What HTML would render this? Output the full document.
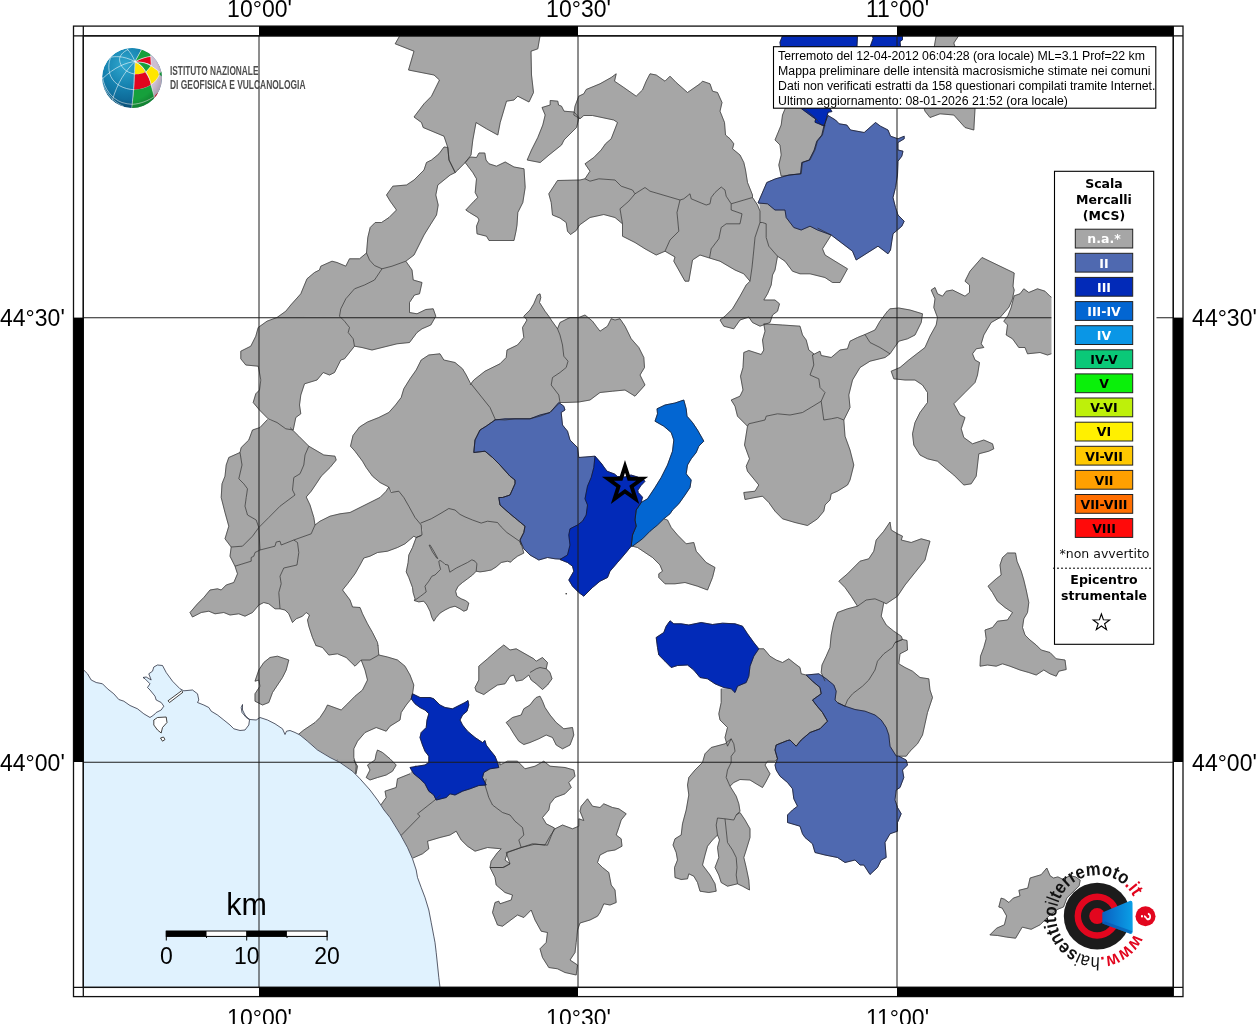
<!DOCTYPE html>
<html lang="it"><head><meta charset="utf-8"><title>Hai sentito il terremoto - Mappa intensita macrosismiche</title>
<style>html,body{margin:0;padding:0;background:#fff}body{width:1256px;height:1024px;overflow:hidden}svg{display:block}.h{font-family:"Liberation Sans",Arial,Helvetica,sans-serif}.d{font-family:"DejaVu Sans","Liberation Sans",sans-serif}.db{font-family:"DejaVu Sans","Liberation Sans",sans-serif;font-weight:bold}</style></head><body>
<svg width="1256" height="1024" viewBox="0 0 1256 1024" style="will-change:transform">
<rect width="1256" height="1024" fill="#fff"/>
<defs><clipPath id="mc"><rect x="83.3" y="35.8" width="1090.0" height="951.6"/></clipPath></defs>
<g clip-path="url(#mc)">
<path d="M400.2,35 540.2,35 537.8,48.8 531,51.2 531.5,75 533.5,92.5 529,102 517.8,96.2 514,100 506.5,101.2 500.2,122.5 497.8,135 486.5,128.8 476,122.5 472.8,140 471,155 465.2,162.5 457.8,170 455.2,172.5 449,160 447.8,147.5 444,136.2 423.2,127.5 421.5,122.5 414,117 424,103.8 431.5,96.2 439.5,80 434,75 408.5,70 414,51.2 395.2,43.8Z" fill="#a6a6a6" stroke="#a6a6a6" stroke-width="0.6"/>
<path d="M447.8,147.5 449,160 455.2,172.5 450.2,175 437.8,185 435.8,195 438.2,205 436.5,215 430.2,225 424,235 419,245 414,255 405.8,261.2 392,266.2 382,268.8 374.5,265.5 369.5,260 366.5,253 367.8,237.5 370.2,227.5 375.2,222.5 381.5,222.5 389,217.5 396.5,210 390.2,201.2 386.5,195 392.8,186.2 406.5,185 414,180 424,170 426.5,162.5 431.5,160 439,153.8 444,147Z" fill="#a6a6a6" stroke="#a6a6a6" stroke-width="0.6"/>
<path d="M465.2,162.5 470.2,157 476.5,157.5 479,153 484.8,153 486,160 489,163.8 496.5,166.2 505.2,162 514,167 524,168.8 525.2,187.5 522.8,202.5 517.8,212.5 517,225 516,231.2 514,240.5 489,240.5 486.5,236.2 477,233.8 476.5,226.2 479,220 477.8,217.5 469.5,212.5 465.8,210 474,201.2 477.8,197.5 475.2,192.5 476.5,178.8 472.8,172.5Z" fill="#a6a6a6" stroke="#a6a6a6" stroke-width="0.6"/>
<path d="M550.2,100.5 557.8,101.2 558.5,105 561.5,106.2 564,111.2 574,112 579,117.5 576.5,127.5 564,140 561.5,145 549,155 540.2,162.5 527.2,160 531.5,150 537.8,137.5 542.8,125 545.2,115 542,107.5 550.2,105Z" fill="#a6a6a6" stroke="#a6a6a6" stroke-width="0.6"/>
<path d="M573.8,115 575,106.2 578.8,96.2 583.8,93.8 586.2,89.5 600,83.8 611.2,77.5 616.2,73.8 614.5,81.2 623.8,87.5 636.2,96.2 642.5,90 646.2,81.2 650,73.8 656.2,75 665,81.2 670,76.2 676.2,82.5 687.5,92.5 700,83.8 702.5,81.2 710,83.8 712.5,91.2 717.5,92.5 722,102.5 720,111.2 724.5,122.5 725.5,135 730,138.8 733.8,143.8 732.5,148.8 740,155 743.8,162.5 745.5,170 747.5,182.5 752.5,195 752.5,197.5 731.2,203.8 726.2,196.2 725,190 721.2,187 715,192.5 711.2,197.5 710,203.8 706.2,205 700,202.5 691.2,198.8 690,193.8 683.8,198.8 680,200 650,191.2 645,187.5 635,193.8 632.5,190 621.2,186.2 615,180 598.8,178.8 590,181.2 585,178.8 590,171.2 585,163.8 593.8,157.5 601.2,150 605.5,143.8 611.2,138.8 617.5,122.5 613.8,120 592.5,115.5 583.8,115.5 580,118.8Z" fill="#a6a6a6" stroke="#a6a6a6" stroke-width="0.6"/>
<path d="M585,178.8 590,181.2 598.8,178.8 615,180 621.2,186.2 632.5,190 635,193.8 628.8,201.2 620,208.8 622.5,223.8 615,217.5 603.8,214.5 590,217.5 579.5,225 576.2,230.5 570.5,234.5 567.5,231.2 566.2,222.5 560,218 552.5,215 551.2,202.5 548.8,193.8 557.5,180.5 580,180Z" fill="#a6a6a6" stroke="#a6a6a6" stroke-width="0.6"/>
<path d="M635,193.8 645,187.5 650,191.2 680,200 677,212.5 678.8,231.2 670,240 665,251.2 656.2,255 645,248.8 635,242.5 622.5,236.2 622.5,223.8 620,208.8 628.8,201.2Z" fill="#a6a6a6" stroke="#a6a6a6" stroke-width="0.6"/>
<path d="M680,200 683.8,198.8 690,193.8 691.2,198.8 700,202.5 706.2,205 710,203.8 711.2,197.5 715,192.5 721.2,187 725,190 726.2,196.2 731.2,203.8 731.2,210 742,213.8 740,223.8 726.2,223.8 721.2,227.5 718.8,238.8 711.2,248.8 709.5,258 700,255 692.5,260 688.8,281.2 685,281.2 673.8,261.2 675,257 665,251.2 670,240 678.8,231.2 677,212.5Z" fill="#a6a6a6" stroke="#a6a6a6" stroke-width="0.6"/>
<path d="M731.2,203.8 752.5,197.5 757.5,205 760,211.2 760,222.5 755,237.5 753.8,250 752,267.5 750,281.2 743.8,273.8 735,270 720,261.2 709.5,258 711.2,248.8 718.8,238.8 721.2,227.5 726.2,223.8 740,223.8 742,213.8 731.2,210Z" fill="#a6a6a6" stroke="#a6a6a6" stroke-width="0.6"/>
<path d="M760,222.5 762.5,222.5 766.2,223.8 766.2,237.5 768.8,246.2 777.5,256.2 775,270 772.5,275 771.2,285 767.5,293.8 763.8,300 775,300 779.5,303.8 777.5,311.2 772.5,315 770,322.5 760,326.2 752.5,322.5 748.8,317 740,320 733.8,328.8 723.8,326.2 720,320 725,316.2 732.5,308.8 740,296.2 746.2,285 750,281.2 752,267.5 753.8,250 755,237.5Z" fill="#a6a6a6" stroke="#a6a6a6" stroke-width="0.6"/>
<path d="M760,206.2 759,201.5 767.5,202.5 775,208.5 785,208.5 787.5,216.2 794.5,225.5 801.2,228 810,224.5 817.5,228 831.2,235 822.5,248.8 825,255 835,261.2 847.5,268.8 840,282.5 832.5,282.5 825,277.5 810,273.8 800,273.8 792.5,271.2 785,261.2 777.5,256.2 768.8,246.2 766.2,237.5 766.2,223.8 762.5,222.5 760,222.5 760,211.2Z" fill="#a6a6a6" stroke="#a6a6a6" stroke-width="0.6"/>
<path d="M781.2,176.2 778.8,165 781.2,155 780,145 775,140 781.2,125 782.5,115 786.2,106.2 801.2,106.2 815,117.5 821.2,125 825,125 822.5,135 817.5,141.2 815,150 810,160 802.5,162.5 801.2,173.8 790,175Z" fill="#a6a6a6" stroke="#a6a6a6" stroke-width="0.6"/>
<path d="M931.2,290 935,287.5 937.5,293.8 942.5,296.2 946.2,291.2 952.5,290 965,296.2 969.5,292.5 969.5,285 965,281.2 970,271.2 982,257.5 1014.2,273 1013,286.2 1014.2,290 1012.5,298.8 1009,307 1005,311.8 1000,317.5 991.2,322.5 983.8,335 981.2,343.8 983.8,347.5 976.2,348.8 972.5,353.8 975,360 979.5,362.5 977.5,375 975,382.5 965,392.5 953.8,403.8 960,415 965,417.5 961.2,428.8 963.8,437.5 972.5,443.8 983.8,440 992.5,443.8 993.8,448.8 988.8,451.2 978.8,453.8 976.2,476.2 971.2,483.8 963.8,485 953.8,475 946.2,468.8 937.5,461.2 927.5,458.8 920,455 913.8,445 912.5,433.8 915,422.5 920,412.5 927.5,402.5 927.5,392.5 922.5,385 915,380 905,380 893.8,378.8 891.2,371.2 900,367.5 908.8,360 925,347.5 930,336.2 936.2,325 937.5,317.5 933.8,307.5 935,298.8Z" fill="#a6a6a6" stroke="#a6a6a6" stroke-width="0.6"/>
<path d="M1014.2,295.8 1020,293.8 1023.8,288.8 1028.8,292.5 1037.5,288.8 1045,291.2 1050,296.2 1055,300 1055,352.5 1047.5,355 1040,352.5 1027.5,353.8 1025,347.5 1018.8,347.5 1012.5,338.8 1006.2,335 1007.5,325 1003.8,321.2 1008,315.5 1011,308Z" fill="#a6a6a6" stroke="#a6a6a6" stroke-width="0.6"/>
<path d="M936.2,35.5 958.8,35.5 953.8,43 975,108.8 973.8,130 965,127.5 953.8,115 940,113.8 930,117.5 925,111.2 923.8,107.5Z" fill="#a6a6a6" stroke="#a6a6a6" stroke-width="0.6"/>
<path d="M887.5,311.2 890,308.8 898.8,308 910,310 922.5,313.8 921.2,322.5 915,335 907.5,338.8 898.8,341.2 890,353.8 880,347.5 870,342.5 865,334.5 875,330 880,321.2Z" fill="#a6a6a6" stroke="#a6a6a6" stroke-width="0.6"/>
<path d="M865,334.5 870,342.5 880,347.5 890,353.8 885,357.5 870,361.2 860,367.5 852.5,380 848.8,395 850,407.5 843.8,420 837.5,417.5 831.2,418.8 823.8,420 821.2,401.2 825,392.5 820,387.5 818.8,378.8 810,375 813.8,365 812.5,355 820,351.2 821.2,355.5 831.2,357.5 840,350 847.5,348.8 850,341.2 857.5,337.5Z" fill="#a6a6a6" stroke="#a6a6a6" stroke-width="0.6"/>
<path d="M763.8,323.8 782.5,325 800,326.2 802.5,335 806.2,340 808.8,350 813.8,353.8 812.5,355 813.8,365 810,375 818.8,378.8 820,387.5 825,392.5 821.2,401.2 815,405 802.5,412.5 790,415 777.5,413.8 766.2,416.2 765,420 748.8,423.8 747.5,426.2 737.5,416.2 735,406.2 731.2,400 740,396.2 743,390 740.5,376.2 743,367.5 743.8,352.5 748.8,350.5 761.2,354.5 763.8,350 762.5,340 765,331.2Z" fill="#a6a6a6" stroke="#a6a6a6" stroke-width="0.6"/>
<path d="M747.5,426.2 748.8,423.8 765,420 766.2,416.2 777.5,413.8 790,415 802.5,412.5 815,405 821.2,401.2 823.8,420 831.2,418.8 837.5,417.5 843.8,420 845,436.2 850,450 853.8,465 850,480 847.5,485 837.5,491.2 831.2,493.8 830,500 825,505 823.8,511.2 817.5,518.8 807.5,525.5 795,522.5 782.5,518.8 775,511.2 768.8,502.5 762.5,496.2 755,497.5 745,499.5 743.8,492.5 755,491.2 758.8,485 747.5,471.2 746.2,466.2 749.5,458.8 744.5,445Z" fill="#a6a6a6" stroke="#a6a6a6" stroke-width="0.6"/>
<path d="M366.5,253 359.5,258.8 349.5,258.8 345.8,266.2 337,262.5 332,261.2 320.8,266.2 319.5,270 314.5,272.5 307,278.8 300.8,293.8 290.8,305 285.8,311.2 277,317.5 339.5,316.2 340.8,308.8 345.8,298.8 354.5,288.8 364.5,285 374.5,280 382,268.8 374.5,265.5 369.5,260Z" fill="#a6a6a6" stroke="#a6a6a6" stroke-width="0.6"/>
<path d="M382,268.8 392,266.2 405.8,261.2 412,270 413.2,280 422,282.5 419.5,293.8 414.5,295 409.5,302.5 409.5,312.5 417,313.8 425.8,309.5 433.2,308.8 435.8,316.2 430.8,325 422,328.8 417,332.5 409.5,342.5 397,343.8 382,347.5 372,350 362,347.5 354.5,346.2 353.2,338.8 348.2,332.5 349.5,327.5 344.5,321.2 339.5,316.2 340.8,308.8 345.8,298.8 354.5,288.8 364.5,285 374.5,280Z" fill="#a6a6a6" stroke="#a6a6a6" stroke-width="0.6"/>
<path d="M277,317.5 339.5,316.2 344.5,321.2 349.5,327.5 348.2,332.5 353.2,338.8 354.5,346.2 344.5,358.8 340.8,360 334.5,372.5 329.5,375 323.2,372.5 317,380 304.5,383.8 300.8,395 299.5,405 300.8,413.8 295.8,417.5 293.2,430 285.8,428.8 277,422.5 268.2,418.8 259.5,410 253.2,402.5 255.8,393.8 259.5,390 260.8,380 259,370 258.2,366.2 245.8,365 240.8,358.8 240.8,351.2 250.8,346.2 255.8,336.2 258.2,327.5 267,321.2Z" fill="#a6a6a6" stroke="#a6a6a6" stroke-width="0.6"/>
<path d="M267.5,419.5 280,423 290,427.5 298.8,436.2 308.8,446.2 305,455 303.8,465 300,473.8 293.8,477.5 292.5,490 295,495 280,506.2 268.8,517.5 258.8,527.5 256.2,520 247.5,515 245,506.2 246.2,497.5 247.5,488.8 243.8,483.8 238.8,478.8 242,465 240,452.5 241.2,447.5 248.8,440 252.5,430 260,427.5Z" fill="#a6a6a6" stroke="#a6a6a6" stroke-width="0.6"/>
<path d="M308.8,446.2 323.8,455 335,456.2 336.2,460 330,467.5 321.2,476.2 316.2,483.8 311.2,491.2 306.2,497 310,505 313.8,517.5 315,525 311.2,533.8 293.8,540 281.2,545 280,541.2 276.2,542 275,546.2 260,550 258.8,527.5 268.8,517.5 280,506.2 295,495 292.5,490 293.8,477.5 300,473.8 303.8,465 305,455Z" fill="#a6a6a6" stroke="#a6a6a6" stroke-width="0.6"/>
<path d="M240,452.5 242,465 238.8,478.8 243.8,483.8 247.5,488.8 246.2,497.5 245,506.2 247.5,515 256.2,520 258.8,527.5 252.5,536.2 242.5,546.2 231.2,547 225,538.8 228.8,526.2 225,512.5 221.2,497.5 222,483.8 225,476.2 226.2,465 228.8,457.5Z" fill="#a6a6a6" stroke="#a6a6a6" stroke-width="0.6"/>
<path d="M231.2,547 242.5,546.2 252.5,536.2 258.8,527.5 260,550 255,552.5 253.8,556.2 251.2,557.5 251.2,561.2 235,566.2 230,556.2Z" fill="#a6a6a6" stroke="#a6a6a6" stroke-width="0.6"/>
<path d="M235,566.2 251.2,561.2 251.2,557.5 253.8,556.2 255,552.5 260,550 275,546.2 276.2,542 280,541.2 281.2,545 293.8,540 297.5,542.5 298.8,552.5 297,565 283.8,568 280,576.2 281.2,583.8 278.8,592.5 280,608.8 275,608.8 268.8,603.8 263.8,602.5 258.8,605 252.5,612.5 245,616.2 238.8,613.8 230,615 223.8,612.5 215,613.8 208.8,611.2 201.2,612.5 192.5,617 190,612.5 197.5,603.8 203.8,597.5 210,590 217.5,588.8 221.2,590 226.2,585 233.8,582.5 237.5,573.8Z" fill="#a6a6a6" stroke="#a6a6a6" stroke-width="0.6"/>
<path d="M293.8,540 311.2,533.8 315,525 320,521.2 330,516.2 340,513.8 350,512.5 360,507.5 370,502.5 380,497.5 386.2,491.2 388.8,487 391.2,492.5 398.8,491.2 403.8,497.5 408.8,506.2 415,517.5 421.2,525 422,535 416.2,537.5 413.8,536.2 405,543.8 397.5,547.5 387.5,551.2 377.5,552.5 370,556.2 363.8,558 360,565 355,573.8 347.5,583.8 342.5,590 350,600 352.5,607 360,607.5 362.5,613.8 367.5,623.8 372.5,632.5 377.5,642.5 378,646 316.2,646 312.5,637.5 308.8,626.2 307.5,620 309.5,615 306.2,612.5 302.5,616.2 296.2,618.8 292.5,622.5 288.8,613.8 285,610 280,608.8 278.8,592.5 281.2,583.8 280,576.2 283.8,568 297,565 298.8,552.5 297.5,542.5Z" fill="#a6a6a6" stroke="#a6a6a6" stroke-width="0.6"/>
<path d="M420.6,523.1 431.2,518.8 440,513.8 448.8,508.5 455,510 460,514.4 465,516.9 472.5,520 481.2,523.1 487.5,521.2 497.5,522.5 501.2,526.9 506.9,532.5 515,538.1 519.4,541.2 521.9,546.2 523.8,553.1 517.5,556.2 511.9,560.6 510.6,562.2 507.5,561.2 501.2,562.5 496.2,566.9 491.2,570 485,571.2 480,571.9 476.2,571.2 476.9,563.8 475,561.2 471.9,559.8 467.5,562.5 461.2,565.6 456.2,568.1 449.8,572.2 448.1,565 445,564.4 442.5,561.9 440,560.4 438.8,561.2 439.4,565 440.6,569.4 438.1,571.9 435,575 431.9,576.2 428.8,581.2 425,586.2 426.2,591.9 420.6,596.2 414.4,600.6 415,598.8 413.1,592.5 412.5,587.5 408.8,577.5 406.2,571.9 408.1,562.5 408.8,555 412.5,547.5 416.2,537.5 421.2,535.6 422.5,530Z" fill="#a6a6a6" stroke="#a6a6a6" stroke-width="0.6"/>
<path d="M414.4,600.6 420.6,596.2 426.2,591.9 425,586.2 428.8,581.2 431.9,576.2 435,575 438.1,571.9 440.6,569.4 439.4,565 438.8,561.2 440,560.4 442.5,561.9 445,564.4 448.1,565 449.8,572.2 456.2,568.1 461.2,565.6 467.5,562.5 471.9,559.8 475,561.2 476.9,563.8 476.2,571.2 472.5,575 467.5,578.8 462.5,582.5 458.1,586.2 455.6,591.2 456.9,596.2 461.2,598.8 465.6,600.6 468.8,603.1 466.9,610 463.8,611.2 460,608.8 455,606.2 450,607.5 445,610 440,613.1 436.2,617.5 433.8,621.2 431.9,617.5 430,611.2 426.9,605 423.8,601.2 418.8,601.9Z" fill="#a6a6a6" stroke="#a6a6a6" stroke-width="0.6"/>
<path d="M429.1,545.2 430.2,545.2 433.8,551.2 437.8,558.5 436.8,558.2 432.5,551.9Z" fill="#a6a6a6" stroke="#a6a6a6" stroke-width="0.6"/>
<path d="M421.2,360 428.8,355 440,353.8 443.8,360 455,362.5 462.5,368.8 466.2,375 470,382.5 480,395 490,407.5 495,418.8 495,420 486.2,426.2 480,430 475,440 473.8,452.5 485,451.2 492.5,457.5 500,465 510,476.2 515,480 515,483.8 510,495 502.5,497.5 498.8,497.5 500,505 510,513.8 517.5,520 525,526.2 523.8,532.5 520,540 521.2,545 517,546.5 511,539 503.5,529 495,526 485,526.5 475,524 465,520.2 456.2,515.2 450,512.8 440,516.5 430,522.8 421.2,527 412.5,518 406.2,508 402.5,500.5 395,495.5 388.8,487 380,482.5 372.5,476.2 366.2,467.5 362.5,461.2 355,451.2 350.5,446.2 353,435.5 359.5,427 367.5,422 378.8,417.5 388.8,412.5 395.5,405 401.2,397.5 403.8,388.8 410,378.8 416.2,370Z" fill="#a6a6a6" stroke="#a6a6a6" stroke-width="0.6"/>
<path d="M470,385 473.8,380 485,371.2 500,363.8 506.2,357.5 507,350 517.5,345 523.8,337.5 522.5,327.5 527,320 523.8,316.2 530,310 533.8,303.8 537.5,295 540,293.8 540.8,297.5 539.5,302.5 545,311.2 548.8,316.2 551.2,320 557.5,328.8 560,335 562.5,345 563.8,356.2 568,361.2 566.2,367.5 560,372.5 552.5,377.5 551.2,385 555,390 558.8,395 560,402.5 550,412.5 540,416.2 530,418.8 515,418.8 505,420 495,419.5 490,408.8 480,395Z" fill="#a6a6a6" stroke="#a6a6a6" stroke-width="0.6"/>
<path d="M557.5,328.8 560,322.5 570,317.5 578.8,317.5 585,315 592.5,321.2 596.2,326.2 600,331.2 607.5,326.2 611.2,318.8 615,320 620,318.8 625,326.2 631.2,338.8 638.8,347.5 643.8,357.5 644.5,367.5 640,375 645,385 635,396.2 625,390 612.5,391.2 600,392.5 590,400 578.8,402 565,402.5 560,402.5 558.8,395 555,390 551.2,385 552.5,377.5 560,372.5 566.2,367.5 568,361.2 563.8,356.2 562.5,345 560,335Z" fill="#a6a6a6" stroke="#a6a6a6" stroke-width="0.6"/>
<path d="M632.5,546.2 642.5,538.8 650,531.2 657.5,525 663.8,518.8 667.5,520 671.2,527.5 677.5,535 686.2,543.8 693.8,542.5 696.2,551.2 706.2,562.5 715,567.5 712.5,577.5 707.5,590 697.5,586.2 685,582.5 675,583.8 665,583.8 658.8,577.5 658.8,573.8 662.5,571.2 660,565 652.5,557.5 645,552.5 637.5,547.5Z" fill="#a6a6a6" stroke="#a6a6a6" stroke-width="0.6"/>
<path d="M890,522 891.2,530 897.5,533.8 902.5,536.2 901.2,540 911.2,542.5 921.2,538.8 930,541.2 927.5,550 925,560 915,572.5 905,585 897.5,596.2 886.2,603.8 883.8,602.5 875,598.8 866.2,600 857.5,606.2 851.2,596.2 845,587.5 838.8,581.2 847.5,573.8 860,561.2 868.8,558.8 873.8,551.2 876.2,540 883.8,531.2Z" fill="#a6a6a6" stroke="#a6a6a6" stroke-width="0.6"/>
<path d="M857.5,606.2 866.2,600 875,598.8 883.8,602.5 881.2,616.2 886.2,625 893.8,631.2 901.2,636.2 902.5,639.5 895,642.5 892.5,647.5 883.8,653.8 877.5,661.2 875,670 868.8,680 862.5,686.2 852.5,693.8 847.5,700 845,706.2 837.5,703 831.2,699.2 833.8,692.5 831.2,687 825,681.2 821.2,672.5 822,665 826.2,656.2 830,647.5 831.2,635 833.8,622.5 837.5,612.5 847.5,608.8Z" fill="#a6a6a6" stroke="#a6a6a6" stroke-width="0.6"/>
<path d="M895,642.5 902.5,639.5 907,640.5 907.5,650 900,653.8 898.8,663.8 905,667.5 912.5,671.2 920,677.5 928.8,678.8 930,690 932.5,697.5 927.5,712.5 925,723.8 922.5,735 917.5,743.8 910,751.2 906.2,756.2 898.8,756.2 896.2,756 890,746.2 888.8,735 886.2,727.5 881.2,720 875,715 865,711.2 855,709.5 845,706.2 847.5,700 852.5,693.8 862.5,686.2 868.8,680 875,670 877.5,661.2 883.8,653.8 892.5,647.5Z" fill="#a6a6a6" stroke="#a6a6a6" stroke-width="0.6"/>
<path d="M758.8,648.8 763.8,648.8 770,656.2 776.2,660 782.5,662.5 788.8,658.8 795,663.8 800,667.5 801.2,673.8 806.2,675 812.5,681.2 820,687.5 821.2,693.8 812.5,700 816.2,705 822.5,712.5 827.5,721.2 820,728.8 810,732.5 801.2,740 796.2,746.2 790,740 787.5,740.5 776.2,745 775,750 777.5,758.8 775,761.2 767.5,761.2 765,765 770,773.8 766.2,781.2 762.5,787.5 756.2,783.8 750,780 740,779.5 733.8,782.5 730,786.2 726.2,777.5 727.5,770 731.2,762.5 731.2,756.2 735,751.2 733.8,743.8 731.2,738.8 727.5,746.2 725,737.5 727.5,727.5 720,720 718.8,713.8 721.2,702.5 721.2,688.8 731.2,688.8 735,692.5 737.5,686.2 746.2,682.5 748.8,676.2 750,666.2 753.8,656.2Z" fill="#a6a6a6" stroke="#a6a6a6" stroke-width="0.6"/>
<path d="M731.2,738.8 733.8,743.8 735,751.2 731.2,756.2 731.2,762.5 727.5,770 726.2,777.5 730,786.2 736.2,796.2 738.8,803.8 740,811.2 736.2,815 733.8,820 725,818.8 717.5,818 716.2,825 717.5,835 712.5,840 707.5,846.2 705,855 702.5,865 710,875 715,883.8 716.2,891.2 708.8,892.5 700,891.2 697.5,882.5 693.8,876.2 688.8,873.8 687.5,878.8 681.2,879.5 675,877.5 674.5,867.5 677.5,860 676.2,852.5 673,845 675,838.8 681.2,835 682.5,823.8 686.2,810 688.8,795 687.5,785 688.8,777.5 695,770 702.5,762.5 705,753.8 711.2,747.5 725,743.8Z" fill="#a6a6a6" stroke="#a6a6a6" stroke-width="0.6"/>
<path d="M717.5,818 725,818.8 726.2,830 727.5,842.5 732.5,850 736.2,857.5 737,867.5 736.2,875 737.5,883.8 727.5,886.2 721.2,882.5 718.8,875 715,867.5 718.8,857.5 717.5,847.5 719.5,840 717.5,835 716.2,825Z" fill="#a6a6a6" stroke="#a6a6a6" stroke-width="0.6"/>
<path d="M725,818.8 733.8,820 736.2,815 740,812.5 745,820 750,828.8 750,837.5 746.2,850 743.8,857.5 746.2,867.5 748.8,880 749.5,890 742.5,886.2 737.5,883.8 736.2,875 737,867.5 736.2,857.5 732.5,850 727.5,842.5 726.2,830Z" fill="#a6a6a6" stroke="#a6a6a6" stroke-width="0.6"/>
<path d="M270,657.5 277.5,656.2 288.8,660 286.2,670 282.5,677.5 277.5,685 272.5,692.5 268.8,702.5 262.5,705 255,701.2 255,693.8 260,686.2 258.8,680 255,681.2 258.8,670 263.8,662.5Z" fill="#a6a6a6" stroke="#a6a6a6" stroke-width="0.6"/>
<path d="M378,645.5 378.8,655 370,660 361.2,660 355,666.2 346.2,657.5 337.5,653.8 328.8,655 322.5,647.5 316.2,645.5Z" fill="#a6a6a6" stroke="#a6a6a6" stroke-width="0.6"/>
<path d="M361.2,660 370,660 378.8,655 387.5,657 397.5,660 405,666.2 410,675 413.8,685 412.5,693.8 411.2,698.8 406.2,705 401.2,712.5 400,720 390,726.2 386.2,731.2 376.2,727.5 365,732.5 357.5,741.2 353.8,748.8 353.8,757.5 356.2,766.2 355.5,773.8 345.5,772.5 336.2,765.5 326.2,757 316.2,750.5 305,743 296.2,736.2 303.8,730 315,722.5 320,717.5 325,710 327.5,705 341.2,710 347.5,703.8 355,696.2 362.5,690 367.5,680 365,670Z" fill="#a6a6a6" stroke="#a6a6a6" stroke-width="0.6"/>
<path d="M377.5,750 382.5,752.5 390,758.8 396.2,765 392.5,771.2 386.2,775 377.5,777.5 370,780 366.2,777.5 370,770 367.5,765 375,760 376.2,753.8Z" fill="#a6a6a6" stroke="#a6a6a6" stroke-width="0.6"/>
<path d="M478.8,666.2 487.5,658.8 497.5,650 503.8,645 510,650 516.2,648.8 525,653.8 533.8,658.8 536.2,661.2 542.5,657.5 547.5,662.5 546.2,668.8 550,672.5 552,678.8 547.5,685 542.5,689.5 536.2,683.8 531.2,680 528.8,675 522.5,680 516.2,681.2 513.8,675 510,676.2 505,683.8 497.5,685 490,690 483.8,694.5 476.2,691.2 475,687.5 478.8,680Z" fill="#a6a6a6" stroke="#a6a6a6" stroke-width="0.6"/>
<path d="M530,672.5 536.2,668.8 540,667.5 546.2,668.8 550,672.5 547.5,685 536.2,683.8Z" fill="#a6a6a6" stroke="#a6a6a6" stroke-width="0.6"/>
<path d="M536.2,697.5 540,696.2 542.5,701.2 545,707.5 550,715 556.2,722.5 563.8,728.8 572.5,727.5 573.8,735 570,745 562.5,748.8 556.2,745 552.5,737.5 546.2,735 538.8,738.8 530,742.5 523.8,744.5 518.8,741.2 513.8,733.8 510,727.5 506.2,722.5 512.5,717.5 521.2,715 523.8,708.8 530,705 533.8,700Z" fill="#a6a6a6" stroke="#a6a6a6" stroke-width="0.6"/>
<path d="M335,762 337.5,760 353.8,760 357.5,766.2 356,774 347.5,771.2Z" fill="#a6a6a6" stroke="#a6a6a6" stroke-width="0.6"/>
<path d="M380,806.2 386.2,797.5 385,791.2 396.2,787.5 397.5,778.8 410,773.8 415.5,765.5 426.2,771.2 436.2,783.8 440.5,795 435,800 417.5,813.8 420,816.2 400.5,836 396.2,838 386.2,820.5 376.2,809.2Z" fill="#a6a6a6" stroke="#a6a6a6" stroke-width="0.6"/>
<path d="M435,800 440,790 460,785 475,781.2 486.2,778.8 485,785 488.8,797.5 492.5,805 502.5,812.5 510,815 515,821.2 522.5,827.5 523.8,835 518.8,840 521.2,847.5 507.5,852.5 505,860 510,863.8 502.5,867.5 490,867.5 491.2,861.2 497.5,852.5 501.2,848.8 487.5,847.5 475,851.2 467.5,846.2 461.2,840 456.2,831.2 450,835 440,837.5 427.5,841.2 428.8,848.8 422.5,853.8 413,858 408,859.5 403,850 396.2,837.5 420,816.2 417.5,813.8Z" fill="#a6a6a6" stroke="#a6a6a6" stroke-width="0.6"/>
<path d="M485,785 478,775 490,763.8 500,762 500,765 507.5,761.2 517.5,761.2 525,768.8 535,766.2 543.8,761.2 550,766.2 565,767.5 573.8,770 575,776.2 568.8,782.5 571.2,787.5 565,793.8 555,797.5 550,803.8 548.8,810 542.5,817.5 546.2,823.8 554.5,828 551,836.5 547.5,845.2 535,844.2 521.2,847.5 518.8,840 523.8,835 522.5,827.5 515,821.2 510,815 502.5,812.5 492.5,805 488.8,797.5Z" fill="#a6a6a6" stroke="#a6a6a6" stroke-width="0.6"/>
<path d="M506.2,852.5 521.2,847.5 532.5,843.8 545,845 550,836.2 555,828.8 562.5,825 572.5,828.8 578.8,826.2 578.8,818.8 583.8,820.5 580,811.2 581.2,806.2 587.5,798.8 592.5,806.2 600,807.5 603.8,803.8 612.5,807.5 618.8,808.8 626.2,813.8 621.2,820 618.8,827.5 616.2,835 621.2,838.8 622,846.2 615,850 607.5,851.2 600,855 597.5,862.5 602.5,867.5 608.8,872.5 610,878.8 611.2,885 615,890 616.2,902.5 610,905 603.8,903.8 600,912.5 597.5,916.2 590,920 580,923 577.5,930 576.2,942.5 575,952.5 570,960 577.5,965 576.2,975 565,972.5 557.5,968.8 548.8,967.5 542.5,957.5 540,948.8 546.2,942.5 547.5,932.5 541.2,931.2 535,920 531.2,910 523.8,917.5 517.5,915 502.5,926.2 497.5,925 492.5,912.5 495,902.5 498.8,901.2 500,903.8 511.2,900 512.5,895 505,892.5 496.2,885 495,877.5 490,867.5 503.8,867.5 510,863.8Z" fill="#a6a6a6" stroke="#a6a6a6" stroke-width="0.6"/>
<path d="M1007.5,553 1015.5,553 1017,561.2 1021.2,571.2 1023.8,580 1026.2,590 1028.8,602.5 1027.5,612.5 1023.8,618.8 1022.5,627.5 1025,635 1030,640 1036.2,645 1041.2,650 1050,652.5 1056.2,658.8 1065,660 1066.2,669.5 1058.8,671.2 1056.2,676.2 1050,673.8 1043.8,670 1036.2,675 1028.8,672.5 1020,670 1010,666.2 1002.5,663.8 996.2,666.2 987.5,665 980,666.2 980.5,656.2 983.8,647.5 986.2,638.8 985,630 992.5,627.5 997.5,621.2 1007.5,620 1012.5,612.5 1005,607.5 997.5,601.2 992.5,592.5 988,586.2 996.2,578.8 1001.2,575 1000,565 1002.5,557.5Z" fill="#a6a6a6" stroke="#a6a6a6" stroke-width="0.6"/>
<path d="M989.9,934.9 996.6,928.2 1004.4,924.8 1006.6,915.9 1002.2,908.1 998.8,907 1001.1,898.1 1004.4,899.2 1008.9,902.5 1013.3,898.1 1020,895.9 1018.9,890.3 1027.8,888.1 1030.1,878 1041.2,874.7 1046.8,868 1050.1,875.8 1053.5,878 1057.9,876.9 1062.4,879.1 1070.2,875.8 1075.7,876.9 1080.2,880.2 1079.1,885.8 1066.8,898.1 1063.5,907 1057.9,909.2 1049,915.9 1040.1,924.8 1031.2,929.3 1022.2,927.1 1015.6,938.2 1006.6,937.1 997.7,935.5Z" fill="#a6a6a6" stroke="#a6a6a6" stroke-width="0.6"/>
<path d="M782.5,35.8 857.5,35.8 856.9,47.2 830,108.5 831.9,111.6 828.1,112.2 824.4,126 815,122.2 815.6,119.1 801.2,108.5 780.6,47.2 780,42.2Z" fill="#022ab8" stroke="#022ab8" stroke-width="0.6"/>
<path d="M873.1,38.5 872.5,35.8 902.5,35.8 902.5,39.8 900,41.6 900.6,47.2 870,47.2Z" fill="#022ab8" stroke="#022ab8" stroke-width="0.6"/>
<path d="M758,203 766.8,182.5 775.5,178.8 789.2,175 800.5,173.8 801.8,162.5 809.2,160 814.2,150 816.8,141.2 821.8,135 824.2,125 828,115.5 835.5,120 839.2,123.8 846.8,125 850.5,130 864.2,132.5 875.5,122.5 880.5,126.2 888,130 890.5,136.2 898,138.8 904.2,136.2 904.2,138.8 898,142.5 898,150 903,151.2 901.8,156.2 898,161.2 897.5,175 895.5,187.5 893,197.5 895.5,207.5 898,215 904.2,221.2 901.8,226.2 893,233.8 891.8,241.2 890.5,250 888,253.8 878,246.2 868,252.5 856.2,260 852.5,251.2 831.2,235 817.5,230 810,226.2 801.2,230 793.8,227.5 786.2,217.5 785,210 775,210 767.5,203.8Z" fill="#4f69b0" stroke="#4f69b0" stroke-width="0.6"/>
<path d="M495,420 505,418.8 515,418.8 530,418.8 540,415 550,412.5 558.8,402.5 563.8,406.2 565,410 561.2,412.5 562.5,425 567.5,431.2 570,440 577.5,447.5 578.8,457.5 595,456.2 602.5,465 601.2,475 597.5,485 595,496.2 596.2,505 597.5,515 592.5,521.2 586.2,525 581.2,527.5 578.8,537.5 576.2,547.5 572.5,558.8 561.2,559.2 555,558.8 547.5,557.5 538.8,560 530,555 523.8,548.8 520,540 523.8,532.5 525,526.2 517.5,520 510,513.8 500,505 498.8,497.5 502.5,497.5 510,495 515,483.8 515,480 510,476.2 500,465 492.5,457.5 485,451.2 473.8,452.5 475,440 480,430 486.2,426.2Z" fill="#4f69b0" stroke="#4f69b0" stroke-width="0.6"/>
<path d="M595,456.2 601,463 607,471.2 614.5,474 617.5,476.5 625,477 631,475 637.5,477 644,480 644.8,481.5 641,485.5 637.8,490.2 638.2,492.5 642.5,497.2 641.2,502.5 636.2,510 635,520 636.2,526.2 632.5,535 631.2,546.2 625,553.8 617.5,562.5 610,571.2 607.5,577.5 600,581.2 592.5,587.5 583.8,596.2 578.8,592.5 572.5,586.2 568.8,580 573.8,571.2 572.5,566.2 567.5,562.5 560,559.5 567.5,555 570,545 568.8,535 570,528.8 577.5,525 582.5,521.2 586.2,515 587.5,505 585,498.8 587.5,486.2 591.2,477.5 593.8,467.5Z" fill="#022ab8" stroke="#022ab8" stroke-width="0.6"/>
<path d="M657,408.8 665,405 675,403 683.8,400 686.2,408.8 687,416.2 692.5,422.5 697.5,430 702.5,438.8 703.8,441.2 698.8,446.2 696.2,452.5 691.2,458.8 687.5,465 686.2,473.8 691.2,480 690,487.5 685,495 678.8,503.8 672.5,510 670,513.8 663.8,518.8 657.5,525 650,531.2 642.5,538.8 632.5,546.2 631.2,546.2 632.5,535 636.2,526.2 635,520 636.2,510 641.2,502.5 647.5,498.8 655,487.5 661.2,477.5 667.5,465 672.5,451.2 673.8,440 671.2,432.5 663.8,426.2 655,421.2 657.5,413.8Z" fill="#0366d2" stroke="#0366d2" stroke-width="0.6"/>
<path d="M670,620.8 673.8,623.8 681.2,623.8 688.8,625 701.2,622.5 712.5,624.5 722.5,623.2 735,623.8 742.5,626.2 747.5,633.8 753.8,642.5 758.8,648.8 753.8,656.2 750,666.2 748.8,676.2 746.2,682.5 737.5,686.2 735,692.5 731.2,688.8 723.8,687.5 715,683.8 707.5,678.8 700,677.5 693.8,670 687.5,665 677.5,665.5 671.2,667.5 665,661.2 658.8,655 657.5,647.5 656.2,637.5 663.8,632.5 666.2,626.2Z" fill="#022ab8" stroke="#022ab8" stroke-width="0.6"/>
<path d="M806.2,675 818.8,673.8 826.2,678.8 833.8,685 836.2,691.2 835,700 837.5,702.5 845,706.2 855,709.5 865,711.2 875,715 881.2,720 886.2,727.5 888.8,735 890,746.2 896.2,756 898.8,756.2 906.2,760 907.5,765 902.5,770 903.8,777.5 900,787.5 896.2,790 895,800 897.5,807.5 901.2,813.8 897.5,822.5 897.5,831.2 890,833.8 885,842.5 886.2,857.5 881.2,860 877.5,867.5 870,874.5 863.8,865 860,865 855,860 845,862.5 837.5,857.5 825,855 815,852.5 812.5,843.8 805,837.5 802.5,833.8 800,826.2 787.5,822.5 787.5,815 792.5,810 797.5,806.2 793.8,798.8 792.5,788.8 787.5,782.5 780,776.2 776.2,770 775,765 777.5,758.8 775,750 776.2,745 787.5,740.5 790,740 796.2,746.2 801.2,740 810,732.5 820,728.8 827.5,721.2 822.5,712.5 816.2,705 812.5,700 821.2,693.8 820,687.5 812.5,681.2Z" fill="#4f69b0" stroke="#4f69b0" stroke-width="0.6"/>
<path d="M412.5,693.8 420,697.5 430,697.5 433.8,698.8 440,705 445,707.5 452.5,708.8 460,705 465,702.5 468,700.5 468.8,705 467,711.2 462.5,715 460,720 462.5,725 467.5,731.2 475,737.5 482.5,742.5 485,740.5 486.2,745 490,750 495,756.2 497.5,762.5 498.8,767.5 490,768.8 483.8,772.5 482.5,777.5 486.2,785 478.8,785.5 470,788.8 462.5,791.2 455,795 450,793.8 446.2,797.5 436.2,800 433.8,795 428.8,791.2 425,783.8 420,778.8 413.8,773.8 410,767.5 417.5,766.2 425,765 428.8,762.5 428.8,756.2 425,751.2 422.5,745 420,737.5 421.2,732.5 426.2,727.5 427,720 428.8,713.8 425,710 420,707.5 415,703.8 411.2,698.8Z" fill="#022ab8" stroke="#022ab8" stroke-width="0.6"/>
<path d="M400.2,35 540.2,35 537.8,48.8 531,51.2 531.5,75 533.5,92.5 529,102 517.8,96.2 514,100 506.5,101.2 500.2,122.5 497.8,135 486.5,128.8 476,122.5 472.8,140 471,155 465.2,162.5 457.8,170 455.2,172.5 449,160 447.8,147.5 444,136.2 423.2,127.5 421.5,122.5 414,117 424,103.8 431.5,96.2 439.5,80 434,75 408.5,70 414,51.2 395.2,43.8 400.2,35" fill="none" stroke="#303030" stroke-width="0.7" stroke-linejoin="round"/>
<path d="M447.8,147.5 449,160 455.2,172.5 450.2,175 437.8,185 435.8,195 438.2,205 436.5,215 430.2,225 424,235 419,245 414,255 405.8,261.2 392,266.2 382,268.8 374.5,265.5 369.5,260 366.5,253 367.8,237.5 370.2,227.5 375.2,222.5 381.5,222.5 389,217.5 396.5,210 390.2,201.2 386.5,195 392.8,186.2 406.5,185 414,180 424,170 426.5,162.5 431.5,160 439,153.8 444,147 447.8,147.5" fill="none" stroke="#303030" stroke-width="0.7" stroke-linejoin="round"/>
<path d="M465.2,162.5 470.2,157 476.5,157.5 479,153 484.8,153 486,160 489,163.8 496.5,166.2 505.2,162 514,167 524,168.8 525.2,187.5 522.8,202.5 517.8,212.5 517,225 516,231.2 514,240.5 489,240.5 486.5,236.2 477,233.8 476.5,226.2 479,220 477.8,217.5 469.5,212.5 465.8,210 474,201.2 477.8,197.5 475.2,192.5 476.5,178.8 472.8,172.5 465.2,162.5" fill="none" stroke="#303030" stroke-width="0.7" stroke-linejoin="round"/>
<path d="M550.2,100.5 557.8,101.2 558.5,105 561.5,106.2 564,111.2 574,112 579,117.5 576.5,127.5 564,140 561.5,145 549,155 540.2,162.5 527.2,160 531.5,150 537.8,137.5 542.8,125 545.2,115 542,107.5 550.2,105 550.2,100.5" fill="none" stroke="#303030" stroke-width="0.7" stroke-linejoin="round"/>
<path d="M573.8,115 575,106.2 578.8,96.2 583.8,93.8 586.2,89.5 600,83.8 611.2,77.5 616.2,73.8 614.5,81.2 623.8,87.5 636.2,96.2 642.5,90 646.2,81.2 650,73.8 656.2,75 665,81.2 670,76.2 676.2,82.5 687.5,92.5 700,83.8 702.5,81.2 710,83.8 712.5,91.2 717.5,92.5 722,102.5 720,111.2 724.5,122.5 725.5,135 730,138.8 733.8,143.8 732.5,148.8 740,155 743.8,162.5 745.5,170 747.5,182.5 752.5,195 752.5,197.5 731.2,203.8 726.2,196.2 725,190 721.2,187 715,192.5 711.2,197.5 710,203.8 706.2,205 700,202.5 691.2,198.8 690,193.8 683.8,198.8 680,200 650,191.2 645,187.5 635,193.8 632.5,190 621.2,186.2 615,180 598.8,178.8 590,181.2 585,178.8 590,171.2 585,163.8 593.8,157.5 601.2,150 605.5,143.8 611.2,138.8 617.5,122.5 613.8,120 592.5,115.5 583.8,115.5 580,118.8 573.8,115" fill="none" stroke="#303030" stroke-width="0.7" stroke-linejoin="round"/>
<path d="M635,193.8 628.8,201.2 620,208.8 622.5,223.8 615,217.5 603.8,214.5 590,217.5 579.5,225 576.2,230.5 570.5,234.5 567.5,231.2 566.2,222.5 560,218 552.5,215 551.2,202.5 548.8,193.8 557.5,180.5 580,180 585,178.8" fill="none" stroke="#303030" stroke-width="0.7" stroke-linejoin="round"/>
<path d="M680,200 677,212.5 678.8,231.2 670,240 665,251.2 656.2,255 645,248.8 635,242.5 622.5,236.2 622.5,223.8" fill="none" stroke="#303030" stroke-width="0.7" stroke-linejoin="round"/>
<path d="M731.2,203.8 731.2,210 742,213.8 740,223.8 726.2,223.8 721.2,227.5 718.8,238.8 711.2,248.8 709.5,258 700,255 692.5,260 688.8,281.2 685,281.2 673.8,261.2 675,257 665,251.2" fill="none" stroke="#303030" stroke-width="0.7" stroke-linejoin="round"/>
<path d="M752.5,197.5 757.5,205 760,211.2 760,222.5 755,237.5 753.8,250 752,267.5 750,281.2 743.8,273.8 735,270 720,261.2 709.5,258" fill="none" stroke="#303030" stroke-width="0.7" stroke-linejoin="round"/>
<path d="M760,222.5 762.5,222.5 766.2,223.8 766.2,237.5 768.8,246.2 777.5,256.2 775,270 772.5,275 771.2,285 767.5,293.8 763.8,300 775,300 779.5,303.8 777.5,311.2 772.5,315 770,322.5 760,326.2 752.5,322.5 748.8,317 740,320 733.8,328.8 723.8,326.2 720,320 725,316.2 732.5,308.8 740,296.2 746.2,285 750,281.2" fill="none" stroke="#303030" stroke-width="0.7" stroke-linejoin="round"/>
<path d="M817.5,228 831.2,235 822.5,248.8 825,255 835,261.2 847.5,268.8 840,282.5 832.5,282.5 825,277.5 810,273.8 800,273.8 792.5,271.2 785,261.2 777.5,256.2" fill="none" stroke="#303030" stroke-width="0.7" stroke-linejoin="round"/>
<path d="M781.2,176.2 778.8,165 781.2,155 780,145 775,140 781.2,125 782.5,115 786.2,106.2 801.2,106.2 815,117.5 821.2,125 825,125 822.5,135 817.5,141.2 815,150 810,160 802.5,162.5 801.2,173.8 790,175 781.2,176.2" fill="none" stroke="#303030" stroke-width="0.7" stroke-linejoin="round"/>
<path d="M931.2,290 935,287.5 937.5,293.8 942.5,296.2 946.2,291.2 952.5,290 965,296.2 969.5,292.5 969.5,285 965,281.2 970,271.2 982,257.5 1014.2,273 1013,286.2 1014.2,290 1012.5,298.8 1009,307 1005,311.8 1000,317.5 991.2,322.5 983.8,335 981.2,343.8 983.8,347.5 976.2,348.8 972.5,353.8 975,360 979.5,362.5 977.5,375 975,382.5 965,392.5 953.8,403.8 960,415 965,417.5 961.2,428.8 963.8,437.5 972.5,443.8 983.8,440 992.5,443.8 993.8,448.8 988.8,451.2 978.8,453.8 976.2,476.2 971.2,483.8 963.8,485 953.8,475 946.2,468.8 937.5,461.2 927.5,458.8 920,455 913.8,445 912.5,433.8 915,422.5 920,412.5 927.5,402.5 927.5,392.5 922.5,385 915,380 905,380 893.8,378.8 891.2,371.2 900,367.5 908.8,360 925,347.5 930,336.2 936.2,325 937.5,317.5 933.8,307.5 935,298.8 931.2,290" fill="none" stroke="#303030" stroke-width="0.7" stroke-linejoin="round"/>
<path d="M1014.2,295.8 1020,293.8 1023.8,288.8 1028.8,292.5 1037.5,288.8 1045,291.2 1050,296.2 1055,300 1055,352.5 1047.5,355 1040,352.5 1027.5,353.8 1025,347.5 1018.8,347.5 1012.5,338.8 1006.2,335 1007.5,325 1003.8,321.2 1008,315.5 1011,308 1014.2,295.8" fill="none" stroke="#303030" stroke-width="0.7" stroke-linejoin="round"/>
<path d="M936.2,35.5 958.8,35.5 953.8,43 975,108.8 973.8,130 965,127.5 953.8,115 940,113.8 930,117.5 925,111.2 923.8,107.5 936.2,35.5" fill="none" stroke="#303030" stroke-width="0.7" stroke-linejoin="round"/>
<path d="M887.5,311.2 890,308.8 898.8,308 910,310 922.5,313.8 921.2,322.5 915,335 907.5,338.8 898.8,341.2 890,353.8 880,347.5 870,342.5 865,334.5 875,330 880,321.2 887.5,311.2" fill="none" stroke="#303030" stroke-width="0.7" stroke-linejoin="round"/>
<path d="M890,353.8 885,357.5 870,361.2 860,367.5 852.5,380 848.8,395 850,407.5 843.8,420 837.5,417.5 831.2,418.8 823.8,420 821.2,401.2 825,392.5 820,387.5 818.8,378.8 810,375 813.8,365 812.5,355 820,351.2 821.2,355.5 831.2,357.5 840,350 847.5,348.8 850,341.2 857.5,337.5 865,334.5" fill="none" stroke="#303030" stroke-width="0.7" stroke-linejoin="round"/>
<path d="M763.8,323.8 782.5,325 800,326.2 802.5,335 806.2,340 808.8,350 813.8,353.8 812.5,355M821.2,401.2 815,405 802.5,412.5 790,415 777.5,413.8 766.2,416.2 765,420 748.8,423.8 747.5,426.2 737.5,416.2 735,406.2 731.2,400 740,396.2 743,390 740.5,376.2 743,367.5 743.8,352.5 748.8,350.5 761.2,354.5 763.8,350 762.5,340 765,331.2 763.8,323.8" fill="none" stroke="#303030" stroke-width="0.7" stroke-linejoin="round"/>
<path d="M843.8,420 845,436.2 850,450 853.8,465 850,480 847.5,485 837.5,491.2 831.2,493.8 830,500 825,505 823.8,511.2 817.5,518.8 807.5,525.5 795,522.5 782.5,518.8 775,511.2 768.8,502.5 762.5,496.2 755,497.5 745,499.5 743.8,492.5 755,491.2 758.8,485 747.5,471.2 746.2,466.2 749.5,458.8 744.5,445 747.5,426.2" fill="none" stroke="#303030" stroke-width="0.7" stroke-linejoin="round"/>
<path d="M366.5,253 359.5,258.8 349.5,258.8 345.8,266.2 337,262.5 332,261.2 320.8,266.2 319.5,270 314.5,272.5 307,278.8 300.8,293.8 290.8,305 285.8,311.2 277,317.5M339.5,316.2 340.8,308.8 345.8,298.8 354.5,288.8 364.5,285 374.5,280 382,268.8" fill="none" stroke="#303030" stroke-width="0.7" stroke-linejoin="round"/>
<path d="M405.8,261.2 412,270 413.2,280 422,282.5 419.5,293.8 414.5,295 409.5,302.5 409.5,312.5 417,313.8 425.8,309.5 433.2,308.8 435.8,316.2 430.8,325 422,328.8 417,332.5 409.5,342.5 397,343.8 382,347.5 372,350 362,347.5 354.5,346.2 353.2,338.8 348.2,332.5 349.5,327.5 344.5,321.2 339.5,316.2" fill="none" stroke="#303030" stroke-width="0.7" stroke-linejoin="round"/>
<path d="M354.5,346.2 344.5,358.8 340.8,360 334.5,372.5 329.5,375 323.2,372.5 317,380 304.5,383.8 300.8,395 299.5,405 300.8,413.8 295.8,417.5 293.2,430 285.8,428.8 277,422.5 268.2,418.8 259.5,410 253.2,402.5 255.8,393.8 259.5,390 260.8,380 259,370 258.2,366.2 245.8,365 240.8,358.8 240.8,351.2 250.8,346.2 255.8,336.2 258.2,327.5 267,321.2 277,317.5" fill="none" stroke="#303030" stroke-width="0.7" stroke-linejoin="round"/>
<path d="M290,427.5 298.8,436.2 308.8,446.2 305,455 303.8,465 300,473.8 293.8,477.5 292.5,490 295,495 280,506.2 268.8,517.5 258.8,527.5 256.2,520 247.5,515 245,506.2 246.2,497.5 247.5,488.8 243.8,483.8 238.8,478.8 242,465 240,452.5 241.2,447.5 248.8,440 252.5,430 260,427.5 267.5,419.5" fill="none" stroke="#303030" stroke-width="0.7" stroke-linejoin="round"/>
<path d="M308.8,446.2 323.8,455 335,456.2 336.2,460 330,467.5 321.2,476.2 316.2,483.8 311.2,491.2 306.2,497 310,505 313.8,517.5 315,525 311.2,533.8 293.8,540 281.2,545 280,541.2 276.2,542 275,546.2 260,550 258.8,527.5" fill="none" stroke="#303030" stroke-width="0.7" stroke-linejoin="round"/>
<path d="M258.8,527.5 252.5,536.2 242.5,546.2 231.2,547 225,538.8 228.8,526.2 225,512.5 221.2,497.5 222,483.8 225,476.2 226.2,465 228.8,457.5 240,452.5" fill="none" stroke="#303030" stroke-width="0.7" stroke-linejoin="round"/>
<path d="M260,550 255,552.5 253.8,556.2 251.2,557.5 251.2,561.2 235,566.2 230,556.2 231.2,547" fill="none" stroke="#303030" stroke-width="0.7" stroke-linejoin="round"/>
<path d="M293.8,540 297.5,542.5 298.8,552.5 297,565 283.8,568 280,576.2 281.2,583.8 278.8,592.5 280,608.8 275,608.8 268.8,603.8 263.8,602.5 258.8,605 252.5,612.5 245,616.2 238.8,613.8 230,615 223.8,612.5 215,613.8 208.8,611.2 201.2,612.5 192.5,617 190,612.5 197.5,603.8 203.8,597.5 210,590 217.5,588.8 221.2,590 226.2,585 233.8,582.5 237.5,573.8 235,566.2" fill="none" stroke="#303030" stroke-width="0.7" stroke-linejoin="round"/>
<path d="M315,525 320,521.2 330,516.2 340,513.8 350,512.5 360,507.5 370,502.5 380,497.5 386.2,491.2 388.8,487 391.2,492.5 398.8,491.2 403.8,497.5 408.8,506.2 415,517.5 421.2,525 422,535 416.2,537.5 413.8,536.2 405,543.8 397.5,547.5 387.5,551.2 377.5,552.5 370,556.2 363.8,558 360,565 355,573.8 347.5,583.8 342.5,590 350,600 352.5,607 360,607.5 362.5,613.8 367.5,623.8 372.5,632.5 377.5,642.5 378,646M316.2,646 312.5,637.5 308.8,626.2 307.5,620 309.5,615 306.2,612.5 302.5,616.2 296.2,618.8 292.5,622.5 288.8,613.8 285,610 280,608.8" fill="none" stroke="#303030" stroke-width="0.7" stroke-linejoin="round"/>
<path d="M420.6,523.1 431.2,518.8 440,513.8 448.8,508.5 455,510 460,514.4 465,516.9 472.5,520 481.2,523.1 487.5,521.2 497.5,522.5 501.2,526.9 506.9,532.5 515,538.1 519.4,541.2 521.9,546.2 523.8,553.1 517.5,556.2 511.9,560.6 510.6,562.2 507.5,561.2 501.2,562.5 496.2,566.9 491.2,570 485,571.2 480,571.9 476.2,571.2 476.9,563.8 475,561.2 471.9,559.8 467.5,562.5 461.2,565.6 456.2,568.1 449.8,572.2 448.1,565 445,564.4 442.5,561.9 440,560.4 438.8,561.2 439.4,565 440.6,569.4 438.1,571.9 435,575 431.9,576.2 428.8,581.2 425,586.2 426.2,591.9 420.6,596.2 414.4,600.6 415,598.8 413.1,592.5 412.5,587.5 408.8,577.5 406.2,571.9 408.1,562.5 408.8,555 412.5,547.5 416.2,537.5 421.2,535.6" fill="none" stroke="#303030" stroke-width="0.7" stroke-linejoin="round"/>
<path d="M476.2,571.2 472.5,575 467.5,578.8 462.5,582.5 458.1,586.2 455.6,591.2 456.9,596.2 461.2,598.8 465.6,600.6 468.8,603.1 466.9,610 463.8,611.2 460,608.8 455,606.2 450,607.5 445,610 440,613.1 436.2,617.5 433.8,621.2 431.9,617.5 430,611.2 426.9,605 423.8,601.2 418.8,601.9 414.4,600.6" fill="none" stroke="#303030" stroke-width="0.7" stroke-linejoin="round"/>
<path d="M429.1,545.2 430.2,545.2 433.8,551.2 437.8,558.5 436.8,558.2 432.5,551.9 429.1,545.2" fill="none" stroke="#303030" stroke-width="0.7" stroke-linejoin="round"/>
<path d="M421.2,360 428.8,355 440,353.8 443.8,360 455,362.5 462.5,368.8 466.2,375 470,382.5 480,395 490,407.5 495,418.8 495,420 486.2,426.2 480,430 475,440 473.8,452.5 485,451.2 492.5,457.5 500,465 510,476.2 515,480 515,483.8 510,495 502.5,497.5 498.8,497.5 500,505 510,513.8 517.5,520 525,526.2 523.8,532.5 520,540 521.2,545M388.8,487 380,482.5 372.5,476.2 366.2,467.5 362.5,461.2 355,451.2 350.5,446.2 353,435.5 359.5,427 367.5,422 378.8,417.5 388.8,412.5 395.5,405 401.2,397.5 403.8,388.8 410,378.8 416.2,370 421.2,360" fill="none" stroke="#303030" stroke-width="0.7" stroke-linejoin="round"/>
<path d="M470,385 473.8,380 485,371.2 500,363.8 506.2,357.5 507,350 517.5,345 523.8,337.5 522.5,327.5 527,320 523.8,316.2 530,310 533.8,303.8 537.5,295 540,293.8 540.8,297.5 539.5,302.5 545,311.2 548.8,316.2 551.2,320 557.5,328.8 560,335 562.5,345 563.8,356.2 568,361.2 566.2,367.5 560,372.5 552.5,377.5 551.2,385 555,390 558.8,395 560,402.5 550,412.5 540,416.2 530,418.8 515,418.8 505,420 495,419.5" fill="none" stroke="#303030" stroke-width="0.7" stroke-linejoin="round"/>
<path d="M557.5,328.8 560,322.5 570,317.5 578.8,317.5 585,315 592.5,321.2 596.2,326.2 600,331.2 607.5,326.2 611.2,318.8 615,320 620,318.8 625,326.2 631.2,338.8 638.8,347.5 643.8,357.5 644.5,367.5 640,375 645,385 635,396.2 625,390 612.5,391.2 600,392.5 590,400 578.8,402 565,402.5 560,402.5" fill="none" stroke="#303030" stroke-width="0.7" stroke-linejoin="round"/>
<path d="M663.8,518.8 667.5,520 671.2,527.5 677.5,535 686.2,543.8 693.8,542.5 696.2,551.2 706.2,562.5 715,567.5 712.5,577.5 707.5,590 697.5,586.2 685,582.5 675,583.8 665,583.8 658.8,577.5 658.8,573.8 662.5,571.2 660,565 652.5,557.5 645,552.5 637.5,547.5 632.5,546.2" fill="none" stroke="#303030" stroke-width="0.7" stroke-linejoin="round"/>
<path d="M890,522 891.2,530 897.5,533.8 902.5,536.2 901.2,540 911.2,542.5 921.2,538.8 930,541.2 927.5,550 925,560 915,572.5 905,585 897.5,596.2 886.2,603.8 883.8,602.5 875,598.8 866.2,600 857.5,606.2 851.2,596.2 845,587.5 838.8,581.2 847.5,573.8 860,561.2 868.8,558.8 873.8,551.2 876.2,540 883.8,531.2 890,522" fill="none" stroke="#303030" stroke-width="0.7" stroke-linejoin="round"/>
<path d="M883.8,602.5 881.2,616.2 886.2,625 893.8,631.2 901.2,636.2 902.5,639.5 895,642.5 892.5,647.5 883.8,653.8 877.5,661.2 875,670 868.8,680 862.5,686.2 852.5,693.8 847.5,700 845,706.2 837.5,703M825,681.2 821.2,672.5 822,665 826.2,656.2 830,647.5 831.2,635 833.8,622.5 837.5,612.5 847.5,608.8 857.5,606.2" fill="none" stroke="#303030" stroke-width="0.7" stroke-linejoin="round"/>
<path d="M895,642.5 902.5,639.5 907,640.5 907.5,650 900,653.8 898.8,663.8 905,667.5 912.5,671.2 920,677.5 928.8,678.8 930,690 932.5,697.5 927.5,712.5 925,723.8 922.5,735 917.5,743.8 910,751.2 906.2,756.2 898.8,756.2" fill="none" stroke="#303030" stroke-width="0.7" stroke-linejoin="round"/>
<path d="M758.8,648.8 763.8,648.8 770,656.2 776.2,660 782.5,662.5 788.8,658.8 795,663.8 800,667.5 801.2,673.8 806.2,675 812.5,681.2 820,687.5 821.2,693.8 812.5,700 816.2,705 822.5,712.5 827.5,721.2 820,728.8 810,732.5 801.2,740 796.2,746.2 790,740 787.5,740.5 776.2,745 775,750 777.5,758.8 775,761.2 767.5,761.2 765,765 770,773.8 766.2,781.2 762.5,787.5 756.2,783.8 750,780 740,779.5 733.8,782.5 730,786.2 726.2,777.5 727.5,770 731.2,762.5 731.2,756.2 735,751.2 733.8,743.8 731.2,738.8 727.5,746.2 725,737.5 727.5,727.5 720,720 718.8,713.8 721.2,702.5 721.2,688.8" fill="none" stroke="#303030" stroke-width="0.7" stroke-linejoin="round"/>
<path d="M730,786.2 736.2,796.2 738.8,803.8 740,811.2 736.2,815 733.8,820 725,818.8 717.5,818 716.2,825 717.5,835 712.5,840 707.5,846.2 705,855 702.5,865 710,875 715,883.8 716.2,891.2 708.8,892.5 700,891.2 697.5,882.5 693.8,876.2 688.8,873.8 687.5,878.8 681.2,879.5 675,877.5 674.5,867.5 677.5,860 676.2,852.5 673,845 675,838.8 681.2,835 682.5,823.8 686.2,810 688.8,795 687.5,785 688.8,777.5 695,770 702.5,762.5 705,753.8 711.2,747.5 725,743.8 731.2,738.8" fill="none" stroke="#303030" stroke-width="0.7" stroke-linejoin="round"/>
<path d="M725,818.8 726.2,830 727.5,842.5 732.5,850 736.2,857.5 737,867.5 736.2,875 737.5,883.8 727.5,886.2 721.2,882.5 718.8,875 715,867.5 718.8,857.5 717.5,847.5 719.5,840 717.5,835" fill="none" stroke="#303030" stroke-width="0.7" stroke-linejoin="round"/>
<path d="M736.2,815 740,812.5 745,820 750,828.8 750,837.5 746.2,850 743.8,857.5 746.2,867.5 748.8,880 749.5,890 742.5,886.2 737.5,883.8" fill="none" stroke="#303030" stroke-width="0.7" stroke-linejoin="round"/>
<path d="M270,657.5 277.5,656.2 288.8,660 286.2,670 282.5,677.5 277.5,685 272.5,692.5 268.8,702.5 262.5,705 255,701.2 255,693.8 260,686.2 258.8,680 255,681.2 258.8,670 263.8,662.5 270,657.5" fill="none" stroke="#303030" stroke-width="0.7" stroke-linejoin="round"/>
<path d="M378,645.5 378.8,655 370,660 361.2,660 355,666.2 346.2,657.5 337.5,653.8 328.8,655 322.5,647.5 316.2,645.5" fill="none" stroke="#303030" stroke-width="0.7" stroke-linejoin="round"/>
<path d="M378.8,655 387.5,657 397.5,660 405,666.2 410,675 413.8,685 412.5,693.8 411.2,698.8 406.2,705 401.2,712.5 400,720 390,726.2 386.2,731.2 376.2,727.5 365,732.5 357.5,741.2 353.8,748.8 353.8,757.5 356.2,766.2 355.5,773.8M296.2,736.2 303.8,730 315,722.5 320,717.5 325,710 327.5,705 341.2,710 347.5,703.8 355,696.2 362.5,690 367.5,680 365,670 361.2,660" fill="none" stroke="#303030" stroke-width="0.7" stroke-linejoin="round"/>
<path d="M377.5,750 382.5,752.5 390,758.8 396.2,765 392.5,771.2 386.2,775 377.5,777.5 370,780 366.2,777.5 370,770 367.5,765 375,760 376.2,753.8 377.5,750" fill="none" stroke="#303030" stroke-width="0.7" stroke-linejoin="round"/>
<path d="M478.8,666.2 487.5,658.8 497.5,650 503.8,645 510,650 516.2,648.8 525,653.8 533.8,658.8 536.2,661.2 542.5,657.5 547.5,662.5 546.2,668.8 550,672.5 552,678.8 547.5,685 542.5,689.5 536.2,683.8 531.2,680 528.8,675 522.5,680 516.2,681.2 513.8,675 510,676.2 505,683.8 497.5,685 490,690 483.8,694.5 476.2,691.2 475,687.5 478.8,680 478.8,666.2" fill="none" stroke="#303030" stroke-width="0.7" stroke-linejoin="round"/>
<path d="M530,672.5 536.2,668.8 540,667.5 546.2,668.8" fill="none" stroke="#303030" stroke-width="0.7" stroke-linejoin="round"/>
<path d="M536.2,697.5 540,696.2 542.5,701.2 545,707.5 550,715 556.2,722.5 563.8,728.8 572.5,727.5 573.8,735 570,745 562.5,748.8 556.2,745 552.5,737.5 546.2,735 538.8,738.8 530,742.5 523.8,744.5 518.8,741.2 513.8,733.8 510,727.5 506.2,722.5 512.5,717.5 521.2,715 523.8,708.8 530,705 533.8,700 536.2,697.5" fill="none" stroke="#303030" stroke-width="0.7" stroke-linejoin="round"/>
<path d="M335,762 337.5,760M353.8,760 357.5,766.2 356,774" fill="none" stroke="#303030" stroke-width="0.7" stroke-linejoin="round"/>
<path d="M380,806.2 386.2,797.5 385,791.2 396.2,787.5 397.5,778.8 410,773.8M440.5,795 435,800 417.5,813.8 420,816.2 400.5,836" fill="none" stroke="#303030" stroke-width="0.7" stroke-linejoin="round"/>
<path d="M486.2,778.8 485,785 488.8,797.5 492.5,805 502.5,812.5 510,815 515,821.2 522.5,827.5 523.8,835 518.8,840 521.2,847.5 507.5,852.5 505,860 510,863.8 502.5,867.5 490,867.5 491.2,861.2 497.5,852.5 501.2,848.8 487.5,847.5 475,851.2 467.5,846.2 461.2,840 456.2,831.2 450,835 440,837.5 427.5,841.2 428.8,848.8 422.5,853.8 413,858" fill="none" stroke="#303030" stroke-width="0.7" stroke-linejoin="round"/>
<path d="M500,762 500,765 507.5,761.2 517.5,761.2 525,768.8 535,766.2 543.8,761.2 550,766.2 565,767.5 573.8,770 575,776.2 568.8,782.5 571.2,787.5 565,793.8 555,797.5 550,803.8 548.8,810 542.5,817.5 546.2,823.8 554.5,828 551,836.5 547.5,845.2 535,844.2 521.2,847.5" fill="none" stroke="#303030" stroke-width="0.7" stroke-linejoin="round"/>
<path d="M506.2,852.5 521.2,847.5 532.5,843.8 545,845 550,836.2 555,828.8 562.5,825 572.5,828.8 578.8,826.2 578.8,818.8 583.8,820.5 580,811.2 581.2,806.2 587.5,798.8 592.5,806.2 600,807.5 603.8,803.8 612.5,807.5 618.8,808.8 626.2,813.8 621.2,820 618.8,827.5 616.2,835 621.2,838.8 622,846.2 615,850 607.5,851.2 600,855 597.5,862.5 602.5,867.5 608.8,872.5 610,878.8 611.2,885 615,890 616.2,902.5 610,905 603.8,903.8 600,912.5 597.5,916.2 590,920 580,923 577.5,930 576.2,942.5 575,952.5 570,960 577.5,965 576.2,975 565,972.5 557.5,968.8 548.8,967.5 542.5,957.5 540,948.8 546.2,942.5 547.5,932.5 541.2,931.2 535,920 531.2,910 523.8,917.5 517.5,915 502.5,926.2 497.5,925 492.5,912.5 495,902.5 498.8,901.2 500,903.8 511.2,900 512.5,895 505,892.5 496.2,885 495,877.5 490,867.5 503.8,867.5 510,863.8 506.2,852.5" fill="none" stroke="#303030" stroke-width="0.7" stroke-linejoin="round"/>
<path d="M1007.5,553 1015.5,553 1017,561.2 1021.2,571.2 1023.8,580 1026.2,590 1028.8,602.5 1027.5,612.5 1023.8,618.8 1022.5,627.5 1025,635 1030,640 1036.2,645 1041.2,650 1050,652.5 1056.2,658.8 1065,660 1066.2,669.5 1058.8,671.2 1056.2,676.2 1050,673.8 1043.8,670 1036.2,675 1028.8,672.5 1020,670 1010,666.2 1002.5,663.8 996.2,666.2 987.5,665 980,666.2 980.5,656.2 983.8,647.5 986.2,638.8 985,630 992.5,627.5 997.5,621.2 1007.5,620 1012.5,612.5 1005,607.5 997.5,601.2 992.5,592.5 988,586.2 996.2,578.8 1001.2,575 1000,565 1002.5,557.5 1007.5,553" fill="none" stroke="#303030" stroke-width="0.7" stroke-linejoin="round"/>
<path d="M989.9,934.9 996.6,928.2 1004.4,924.8 1006.6,915.9 1002.2,908.1 998.8,907 1001.1,898.1 1004.4,899.2 1008.9,902.5 1013.3,898.1 1020,895.9 1018.9,890.3 1027.8,888.1 1030.1,878 1041.2,874.7 1046.8,868 1050.1,875.8 1053.5,878 1057.9,876.9 1062.4,879.1 1070.2,875.8 1075.7,876.9 1080.2,880.2 1079.1,885.8 1066.8,898.1 1063.5,907 1057.9,909.2 1049,915.9 1040.1,924.8 1031.2,929.3 1022.2,927.1 1015.6,938.2 1006.6,937.1 997.7,935.5 989.9,934.9" fill="none" stroke="#303030" stroke-width="0.7" stroke-linejoin="round"/>
<path d="M782.5,35.8 857.5,35.8 856.9,47.2 830,108.5 831.9,111.6 828.1,112.2 824.4,126 815,122.2 815.6,119.1 801.2,108.5 780.6,47.2 780,42.2 782.5,35.8" fill="none" stroke="#1a1a2a" stroke-width="0.8" stroke-linejoin="round"/>
<path d="M873.1,38.5 872.5,35.8 902.5,35.8 902.5,39.8 900,41.6 900.6,47.2 870,47.2 873.1,38.5" fill="none" stroke="#1a1a2a" stroke-width="0.8" stroke-linejoin="round"/>
<path d="M758,203 766.8,182.5 775.5,178.8 789.2,175 800.5,173.8 801.8,162.5 809.2,160 814.2,150 816.8,141.2 821.8,135 824.2,125 828,115.5 835.5,120 839.2,123.8 846.8,125 850.5,130 864.2,132.5 875.5,122.5 880.5,126.2 888,130 890.5,136.2 898,138.8 904.2,136.2 904.2,138.8 898,142.5 898,150 903,151.2 901.8,156.2 898,161.2 897.5,175 895.5,187.5 893,197.5 895.5,207.5 898,215 904.2,221.2 901.8,226.2 893,233.8 891.8,241.2 890.5,250 888,253.8 878,246.2 868,252.5 856.2,260 852.5,251.2 831.2,235 817.5,230 810,226.2 801.2,230 793.8,227.5 786.2,217.5 785,210 775,210 767.5,203.8 758,203" fill="none" stroke="#1a1a2a" stroke-width="0.8" stroke-linejoin="round"/>
<path d="M495,420 505,418.8 515,418.8 530,418.8 540,415 550,412.5 558.8,402.5 563.8,406.2 565,410 561.2,412.5 562.5,425 567.5,431.2 570,440 577.5,447.5 578.8,457.5 595,456.2M561.2,559.2 555,558.8 547.5,557.5 538.8,560 530,555 523.8,548.8 520,540 523.8,532.5 525,526.2 517.5,520 510,513.8 500,505 498.8,497.5 502.5,497.5 510,495 515,483.8 515,480 510,476.2 500,465 492.5,457.5 485,451.2 473.8,452.5 475,440 480,430 486.2,426.2 495,420" fill="none" stroke="#1a1a2a" stroke-width="0.8" stroke-linejoin="round"/>
<path d="M595,456.2 601,463 607,471.2 614.5,474 617.5,476.5 625,477 631,475 637.5,477 644,480 644.8,481.5 641,485.5 637.8,490.2 638.2,492.5 642.5,497.2 641.2,502.5 636.2,510 635,520 636.2,526.2 632.5,535 631.2,546.2 625,553.8 617.5,562.5 610,571.2 607.5,577.5 600,581.2 592.5,587.5 583.8,596.2 578.8,592.5 572.5,586.2 568.8,580 573.8,571.2 572.5,566.2 567.5,562.5 560,559.5 567.5,555 570,545 568.8,535 570,528.8 577.5,525 582.5,521.2 586.2,515 587.5,505 585,498.8 587.5,486.2 591.2,477.5 593.8,467.5 595,456.2" fill="none" stroke="#1a1a2a" stroke-width="0.8" stroke-linejoin="round"/>
<path d="M657,408.8 665,405 675,403 683.8,400 686.2,408.8 687,416.2 692.5,422.5 697.5,430 702.5,438.8 703.8,441.2 698.8,446.2 696.2,452.5 691.2,458.8 687.5,465 686.2,473.8 691.2,480 690,487.5 685,495 678.8,503.8 672.5,510 670,513.8 663.8,518.8 657.5,525 650,531.2 642.5,538.8 632.5,546.2 631.2,546.2 632.5,535 636.2,526.2 635,520 636.2,510 641.2,502.5 647.5,498.8 655,487.5 661.2,477.5 667.5,465 672.5,451.2 673.8,440 671.2,432.5 663.8,426.2 655,421.2 657.5,413.8 657,408.8" fill="none" stroke="#1a1a2a" stroke-width="0.8" stroke-linejoin="round"/>
<path d="M670,620.8 673.8,623.8 681.2,623.8 688.8,625 701.2,622.5 712.5,624.5 722.5,623.2 735,623.8 742.5,626.2 747.5,633.8 753.8,642.5 758.8,648.8 753.8,656.2 750,666.2 748.8,676.2 746.2,682.5 737.5,686.2 735,692.5 731.2,688.8 723.8,687.5 715,683.8 707.5,678.8 700,677.5 693.8,670 687.5,665 677.5,665.5 671.2,667.5 665,661.2 658.8,655 657.5,647.5 656.2,637.5 663.8,632.5 666.2,626.2 670,620.8" fill="none" stroke="#1a1a2a" stroke-width="0.8" stroke-linejoin="round"/>
<path d="M806.2,675 818.8,673.8 826.2,678.8 833.8,685 836.2,691.2 835,700 837.5,702.5 845,706.2 855,709.5 865,711.2 875,715 881.2,720 886.2,727.5 888.8,735 890,746.2 896.2,756 898.8,756.2 906.2,760 907.5,765 902.5,770 903.8,777.5 900,787.5 896.2,790 895,800 897.5,807.5 901.2,813.8 897.5,822.5 897.5,831.2 890,833.8 885,842.5 886.2,857.5 881.2,860 877.5,867.5 870,874.5 863.8,865 860,865 855,860 845,862.5 837.5,857.5 825,855 815,852.5 812.5,843.8 805,837.5 802.5,833.8 800,826.2 787.5,822.5 787.5,815 792.5,810 797.5,806.2 793.8,798.8 792.5,788.8 787.5,782.5 780,776.2 776.2,770 775,765 777.5,758.8 775,750 776.2,745 787.5,740.5 790,740 796.2,746.2 801.2,740 810,732.5 820,728.8 827.5,721.2 822.5,712.5 816.2,705 812.5,700 821.2,693.8 820,687.5 812.5,681.2 806.2,675" fill="none" stroke="#1a1a2a" stroke-width="0.8" stroke-linejoin="round"/>
<path d="M412.5,693.8 420,697.5 430,697.5 433.8,698.8 440,705 445,707.5 452.5,708.8 460,705 465,702.5 468,700.5 468.8,705 467,711.2 462.5,715 460,720 462.5,725 467.5,731.2 475,737.5 482.5,742.5 485,740.5 486.2,745 490,750 495,756.2 497.5,762.5 498.8,767.5 490,768.8 483.8,772.5 482.5,777.5 486.2,785 478.8,785.5 470,788.8 462.5,791.2 455,795 450,793.8 446.2,797.5 436.2,800 433.8,795 428.8,791.2 425,783.8 420,778.8 413.8,773.8 410,767.5 417.5,766.2 425,765 428.8,762.5 428.8,756.2 425,751.2 422.5,745 420,737.5 421.2,732.5 426.2,727.5 427,720 428.8,713.8 425,710 420,707.5 415,703.8 411.2,698.8 412.5,693.8" fill="none" stroke="#1a1a2a" stroke-width="0.8" stroke-linejoin="round"/>
<path d="M70,660 83.2,669.5 87.5,673.8 91.2,680 96.2,682.5 102.5,683.8 107.5,688.8 113.8,693.8 118.8,699.5 123.8,701.2 130,705.5 137.5,708.8 143.8,713.8 150,717.5 153.8,715 156.2,712.5 161.2,710 163.8,706.2 161.2,702.5 156.2,700 155,696.2 150,690 147.5,687.5 150,683.8 145,678.8 143,677.5 146.2,677 151.2,680 148.8,673.8 152.5,671.2 153.8,667 157.5,665 162.5,665.5 166.2,672.5 172.5,681.2 180,688.8 183.8,690.8 192.5,690 197.5,693.8 198.8,700 197.5,702.5 203.8,705 208.8,707.5 211.2,711.2 217.5,715 223.8,720 230,725 233.8,728.8 240,730.5 245,730 248.8,725 249.5,720 245,715 242.5,710 242.5,704.5 241.2,707.5 242,712.5 246.2,717.5 250,719.5 256.2,720 260,717.5 267.5,720 275,723.8 282.5,728.8 285,734.5 286.5,731.2 290,730.5 295,732.5 300,735 307.5,741.2 317.5,750 330,757.5 340,762.5 352.5,771.2 360,778.8 370,790 377.5,800 384,810 390,817.5 400,833.8 407.5,847.5 412.5,858.8 416.2,870 417.5,877.5 421.2,887.5 425,897.5 428.8,910 431.2,922.5 433.8,936.2 435,942.5 436.2,952.5 437.5,965 438.8,977.5 440,987.5 440.5,1000 70,1015Z" fill="#e0f2fe" stroke="#e0f2fe" stroke-width="0.6"/>
<path d="M70,660 83.2,669.5 87.5,673.8 91.2,680 96.2,682.5 102.5,683.8 107.5,688.8 113.8,693.8 118.8,699.5 123.8,701.2 130,705.5 137.5,708.8 143.8,713.8 150,717.5 153.8,715 156.2,712.5 161.2,710 163.8,706.2 161.2,702.5 156.2,700 155,696.2 150,690 147.5,687.5 150,683.8 145,678.8 143,677.5 146.2,677 151.2,680 148.8,673.8 152.5,671.2 153.8,667 157.5,665 162.5,665.5 166.2,672.5 172.5,681.2 180,688.8 183.8,690.8 192.5,690 197.5,693.8 198.8,700 197.5,702.5 203.8,705 208.8,707.5 211.2,711.2 217.5,715 223.8,720 230,725 233.8,728.8 240,730.5 245,730 248.8,725 249.5,720 245,715 242.5,710 242.5,704.5 241.2,707.5 242,712.5 246.2,717.5 250,719.5 256.2,720 260,717.5 267.5,720 275,723.8 282.5,728.8 285,734.5 286.5,731.2 290,730.5 295,732.5 300,735 307.5,741.2 317.5,750 330,757.5 340,762.5 352.5,771.2 360,778.8 370,790 377.5,800 384,810 390,817.5 400,833.8 407.5,847.5 412.5,858.8 416.2,870 417.5,877.5 421.2,887.5 425,897.5 428.8,910 431.2,922.5 433.8,936.2 435,942.5 436.2,952.5 437.5,965 438.8,977.5 440,987.5 440.5,1000" fill="none" stroke="#1a1a2a" stroke-width="0.7" stroke-linejoin="round"/>
<path d="M153.8,720 157.5,717.5 166.2,717 167,722.5 162.5,727.5 161.2,733 157.5,730 153.8,725Z" fill="#ffffff" stroke="#ffffff" stroke-width="0.6"/>
<path d="M153.8,720 157.5,717.5 166.2,717 167,722.5 162.5,727.5 161.2,733 157.5,730 153.8,725 153.8,720" fill="none" stroke="#111" stroke-width="0.8" stroke-linejoin="round"/>
<path d="M160.5,738 163.5,737 165,739.5 162.5,741.2Z" fill="#ffffff" stroke="#ffffff" stroke-width="0.6"/>
<path d="M160.5,738 163.5,737 165,739.5 162.5,741.2 160.5,738" fill="none" stroke="#111" stroke-width="0.8" stroke-linejoin="round"/>
<path d="M168,700.8 181.5,690.8 183,692.2 169.5,702.5Z" fill="#ffffff" stroke="#ffffff" stroke-width="0.6"/>
<path d="M168,700.8 181.5,690.8 183,692.2 169.5,702.5 168,700.8" fill="none" stroke="#111" stroke-width="0.8" stroke-linejoin="round"/>
</g>
<line x1="259.0" y1="35.8" x2="259.0" y2="987.4" stroke="#1c1c1c" stroke-width="1"/>
<line x1="578.0" y1="35.8" x2="578.0" y2="987.4" stroke="#1c1c1c" stroke-width="1"/>
<line x1="897.0" y1="35.8" x2="897.0" y2="987.4" stroke="#1c1c1c" stroke-width="1"/>
<line x1="83.3" y1="317.8" x2="1173.3" y2="317.8" stroke="#1c1c1c" stroke-width="1.1"/>
<line x1="83.3" y1="762.2" x2="1173.3" y2="762.2" stroke="#1c1c1c" stroke-width="1.1"/>
<circle cx="566.2" cy="593.8" r="0.8" fill="#222"/>
<g fill="none" stroke="#111" stroke-width="1.3">
<rect x="73.5" y="26.1" width="1109.5" height="970.5"/>
<rect x="83.3" y="35.8" width="1090.0" height="951.6"/>
<path d="M83.3 26.1V996.6M1173.3 26.1V996.6M73.5 35.8H1183.0M73.5 987.4H1183.0"/>
</g>
<rect x="259" y="26.1" width="319" height="9.7" fill="#000"/>
<rect x="259" y="987.4" width="319" height="9.2" fill="#000"/>
<rect x="897" y="26.1" width="276.3" height="9.7" fill="#000"/>
<rect x="897" y="987.4" width="276.3" height="9.2" fill="#000"/>
<rect x="73.5" y="317.6" width="9.8" height="444.4" fill="#000"/>
<rect x="1173.3" y="317.6" width="9.7" height="444.4" fill="#000"/>
<text class="h" x="259.5" y="16.6" font-size="23" text-anchor="middle" fill="#000">10°00'</text>
<text class="h" x="259.5" y="1025.5" font-size="23" text-anchor="middle" fill="#000">10°00'</text>
<text class="h" x="578.5" y="16.6" font-size="23" text-anchor="middle" fill="#000">10°30'</text>
<text class="h" x="578.5" y="1025.5" font-size="23" text-anchor="middle" fill="#000">10°30'</text>
<text class="h" x="897.5" y="16.6" font-size="23" text-anchor="middle" fill="#000">11°00'</text>
<text class="h" x="897.5" y="1025.5" font-size="23" text-anchor="middle" fill="#000">11°00'</text>
<text class="h" x="64.8" y="326.3" font-size="23" text-anchor="end" fill="#000">44°30'</text>
<text class="h" x="1192.1" y="326.3" font-size="23" text-anchor="start" fill="#000">44°30'</text>
<text class="h" x="64.8" y="770.7" font-size="23" text-anchor="end" fill="#000">44°00'</text>
<text class="h" x="1192.1" y="770.7" font-size="23" text-anchor="start" fill="#000">44°00'</text>
<polygon points="625.0,466.4 629.1,478.8 642.2,478.8 631.6,486.5 635.6,499.0 625.0,491.3 614.5,499.0 618.5,486.5 607.9,478.8 621.0,478.8" fill="none" stroke="#000" stroke-width="3.9" stroke-miterlimit="10"/>
<rect x="773.5" y="46.7" width="382.3" height="61.5" fill="#fff" stroke="#000" stroke-width="1.1"/>
<text class="h" x="778.1" y="59.9" font-size="12.3" fill="#000" textLength="366.8" lengthAdjust="spacing">Terremoto del 12-04-2012 06:04:28 (ora locale) ML=3.1 Prof=22 km</text>
<text class="h" x="778.1" y="74.8" font-size="12.3" fill="#000" textLength="372.4" lengthAdjust="spacing">Mappa preliminare delle intensità macrosismiche stimate nei comuni</text>
<text class="h" x="778.1" y="89.7" font-size="12.3" fill="#000" textLength="377.2" lengthAdjust="spacing">Dati non verificati estratti da 158 questionari compilati tramite Internet.</text>
<text class="h" x="778.1" y="104.6" font-size="12.3" fill="#000" textLength="289.8" lengthAdjust="spacing">Ultimo aggiornamento: 08-01-2026 21:52 (ora locale)</text>
<rect x="1051.5" y="168.5" width="105" height="478.5" fill="#fff"/>
<rect x="1054.5" y="171.3" width="99.2" height="473" fill="#fff" stroke="#000" stroke-width="1.1"/>
<text class="db" x="1104" y="187.5" font-size="12.5" text-anchor="middle" fill="#000">Scala</text>
<text class="db" x="1104" y="203.6" font-size="12.5" text-anchor="middle" fill="#000">Mercalli</text>
<text class="db" x="1104" y="219.7" font-size="12.5" text-anchor="middle" fill="#000">(MCS)</text>
<rect x="1075.3" y="229.2" width="57.4" height="18.8" fill="#a6a6a6" stroke="#222" stroke-width="1"/>
<text class="db" x="1104" y="243.4" font-size="12.5" text-anchor="middle" fill="#fff">n.a.*</text>
<rect x="1075.3" y="253.3" width="57.4" height="18.8" fill="#4f69b0" stroke="#222" stroke-width="1"/>
<text class="db" x="1104" y="267.5" font-size="12.5" text-anchor="middle" fill="#fff">II</text>
<rect x="1075.3" y="277.4" width="57.4" height="18.8" fill="#022ab8" stroke="#222" stroke-width="1"/>
<text class="db" x="1104" y="291.6" font-size="12.5" text-anchor="middle" fill="#fff">III</text>
<rect x="1075.3" y="301.6" width="57.4" height="18.8" fill="#0366d2" stroke="#222" stroke-width="1"/>
<text class="db" x="1104" y="315.8" font-size="12.5" text-anchor="middle" fill="#fff">III-IV</text>
<rect x="1075.3" y="325.7" width="57.4" height="18.8" fill="#0a96e6" stroke="#222" stroke-width="1"/>
<text class="db" x="1104" y="339.9" font-size="12.5" text-anchor="middle" fill="#fff">IV</text>
<rect x="1075.3" y="349.8" width="57.4" height="18.8" fill="#0ac878" stroke="#222" stroke-width="1"/>
<text class="db" x="1104" y="364.0" font-size="12.5" text-anchor="middle" fill="#000">IV-V</text>
<rect x="1075.3" y="373.9" width="57.4" height="18.8" fill="#0af00a" stroke="#222" stroke-width="1"/>
<text class="db" x="1104" y="388.1" font-size="12.5" text-anchor="middle" fill="#000">V</text>
<rect x="1075.3" y="398.0" width="57.4" height="18.8" fill="#bef00a" stroke="#222" stroke-width="1"/>
<text class="db" x="1104" y="412.2" font-size="12.5" text-anchor="middle" fill="#000">V-VI</text>
<rect x="1075.3" y="422.2" width="57.4" height="18.8" fill="#fff000" stroke="#222" stroke-width="1"/>
<text class="db" x="1104" y="436.4" font-size="12.5" text-anchor="middle" fill="#000">VI</text>
<rect x="1075.3" y="446.3" width="57.4" height="18.8" fill="#ffc800" stroke="#222" stroke-width="1"/>
<text class="db" x="1104" y="460.5" font-size="12.5" text-anchor="middle" fill="#000">VI-VII</text>
<rect x="1075.3" y="470.4" width="57.4" height="18.8" fill="#ffa000" stroke="#222" stroke-width="1"/>
<text class="db" x="1104" y="484.6" font-size="12.5" text-anchor="middle" fill="#000">VII</text>
<rect x="1075.3" y="494.5" width="57.4" height="18.8" fill="#ff6e00" stroke="#222" stroke-width="1"/>
<text class="db" x="1104" y="508.7" font-size="12.5" text-anchor="middle" fill="#000">VII-VIII</text>
<rect x="1075.3" y="518.6" width="57.4" height="18.8" fill="#ff0a0a" stroke="#222" stroke-width="1"/>
<text class="db" x="1104" y="532.8" font-size="12.5" text-anchor="middle" fill="#000">VIII</text>
<text class="d" x="1104.5" y="557.6" font-size="12.5" text-anchor="middle" fill="#111">*non avvertito</text>
<line x1="1053" y1="568.2" x2="1152" y2="568.2" stroke="#000" stroke-width="1" stroke-dasharray="2,2"/>
<text class="db" x="1104" y="583.5" font-size="12.5" text-anchor="middle" fill="#000">Epicentro</text>
<text class="db" x="1104" y="599.5" font-size="12.5" text-anchor="middle" fill="#000">strumentale</text>
<polygon points="1101.4,614.0 1103.4,619.8 1109.6,619.9 1104.6,623.7 1106.5,629.6 1101.4,626.0 1096.3,629.6 1098.2,623.7 1093.2,619.9 1099.4,619.8" fill="#fff" stroke="#000" stroke-width="1.1"/>
<text class="h" x="246.5" y="915.2" font-size="30.5" text-anchor="middle" fill="#000">km</text>
<rect x="166.3" y="931" width="160.8" height="5.4" fill="#fff" stroke="#000" stroke-width="1"/>
<rect x="166.3" y="931" width="40.2" height="5.4" fill="#000"/><rect x="246.7" y="931" width="40.2" height="5.4" fill="#000"/>
<path d="M166.3 931V940.5M246.7 931V940.5M327.1 931V940.5M206.5 936V938M287 936V938" stroke="#000" stroke-width="1" fill="none"/>
<text class="h" x="166.5" y="964.3" font-size="23" text-anchor="middle" fill="#000">0</text>
<text class="h" x="246.7" y="964.3" font-size="23" text-anchor="middle" fill="#000">10</text>
<text class="h" x="327.1" y="964.3" font-size="23" text-anchor="middle" fill="#000">20</text>
<defs><radialGradient id="gb" cx="0.38" cy="0.28" r="0.75"><stop offset="0" stop-color="#30a8cf"/><stop offset="0.5" stop-color="#1480ae"/><stop offset="1" stop-color="#0a5a88"/></radialGradient><radialGradient id="gs" cx="0.45" cy="0.4" r="0.62"><stop offset="0.75" stop-color="#000" stop-opacity="0"/><stop offset="1" stop-color="#000" stop-opacity="0.22"/></radialGradient><clipPath id="gc"><circle cx="527" cy="526" r="438"/></clipPath><linearGradient id="cone" x1="0" x2="1" y1="0" y2="0"><stop offset="0" stop-color="#0a5fc0"/><stop offset="0.6" stop-color="#0a86d8"/><stop offset="1" stop-color="#0aa0e6"/></linearGradient></defs>
<g transform="translate(96,42) scale(0.068376)"><g clip-path="url(#gc)">
<circle cx="527" cy="526" r="440" fill="url(#gb)"/>
<path d="M570,285 L680,80 L1000,80 L1000,1000 L520,1000 L555,695 L570,470 Z" fill="#cdbfd2"/>
<path d="M575,280 L665,110 L790,170 L800,210 C720,220 650,245 590,278 Z" fill="#16a03c"/>
<path d="M590,283 C660,245 730,220 800,212 L808,335 C740,300 670,290 600,290 Z" fill="#e2061e"/>
<path d="M600,295 C680,293 750,315 805,352 L730,437 C700,370 660,325 600,295Z" fill="#16a03c"/>
<path d="M575,300 C640,320 690,380 718,440 C680,465 620,472 568,470 Z" fill="#ffe600"/>
<path d="M732,437 L805,352 C850,380 890,410 910,432 L925,480 C900,540 860,590 808,618 C790,550 765,490 732,437Z" fill="#ffe600"/>
<path d="M568,472 C620,474 680,466 718,442 C760,500 790,560 803,625 C730,670 640,690 556,697 Z" fill="#e2061e"/>
<path d="M556,699 C640,692 730,672 804,628 C825,700 840,760 850,800 L850,1000 L520,1000 Z" fill="#16a03c"/>
<path d="M940,440 L1000,420 L1000,520 L925,480 Z" fill="#16a03c"/>
<path d="M850,800 L905,738 L900,790 L855,815Z" fill="#e2061e"/>
<g fill="none" stroke="#fff" stroke-width="9" stroke-linecap="round" opacity="0.92">
<path d="M465,112 C400,140 340,200 345,262 C350,350 430,450 570,470"/>
<path d="M240,180 C180,260 170,400 215,500 C270,620 400,690 556,698"/>
<path d="M95,520 C120,680 230,830 380,885 C430,900 480,910 530,912 C650,905 760,860 850,800"/>
<path d="M570,285 C540,210 500,150 455,100"/>
<path d="M570,285 C480,240 400,220 340,215 C290,212 240,215 200,225"/>
<path d="M570,285 C440,300 280,360 90,540"/>
<path d="M570,285 C430,420 310,600 240,850"/>
<path d="M570,285 C560,470 556,700 522,965"/>
<path d="M570,285 L670,105"/>
<path d="M578,283 C660,240 730,220 800,210"/>
<path d="M580,290 C680,288 750,312 808,350 C860,385 900,415 945,445"/>
<path d="M575,295 C650,320 700,390 732,437 C770,500 800,570 806,625 C825,700 840,760 852,805"/>
<path d="M800,205 L808,345"/>
<path d="M732,437 L806,352"/>
<path d="M808,620 C860,590 900,540 925,480 L910,432"/>
<path d="M100,620 C150,760 260,880 400,940"/>
</g>
<circle cx="527" cy="526" r="440" fill="url(#gs)"/>
</g></g>
<text class="h" x="170" y="75.2" font-size="13.4" font-weight="bold" fill="#4d4d4d" textLength="88.5" lengthAdjust="spacingAndGlyphs">ISTITUTO NAZIONALE</text>
<text class="h" x="170" y="89.4" font-size="13.4" font-weight="bold" fill="#4d4d4d" textLength="135.5" lengthAdjust="spacingAndGlyphs">DI GEOFISICA E VULCANOLOGIA</text>
<g>
<circle cx="1097.2" cy="916.1" r="33.4" fill="#1c1c1c"/>
<circle cx="1097.2" cy="916.1" r="19.4" fill="none" stroke="#e2061e" stroke-width="6.4"/>
<circle cx="1097.2" cy="916.1" r="8.0" fill="#e2061e"/>
<path d="M1102.3 912.5 L1130.3 900.8 Q1132.4 900.5 1132.5 903.1 L1132.7 931.1 Q1132.7 934.7 1130.2 933.7 L1102.3 923.4 Z" fill="url(#cone)"/>
<path d="M1102.3 923.4 L1130.2 933.7 L1132.6 931.3 L1105.2 921.6 Z" fill="#0a4fa8" opacity="0.55"/>
<circle cx="1145.5" cy="916.3" r="10" fill="#e2061e"/>
<text class="h" x="0" y="0" font-size="15" font-weight="bold" fill="#fff" text-anchor="middle" transform="translate(1140.6,916.6) rotate(90)">?</text>
<text class="h" font-size="18.5" font-weight="bold" fill="#e2061e" text-anchor="middle" transform="translate(1130.98,939.33) rotate(124.5) scale(0.897,1)">w</text>
<text class="h" font-size="18.5" font-weight="bold" fill="#e2061e" text-anchor="middle" transform="translate(1122.13,948.65) rotate(142.5) scale(0.897,1)">w</text>
<text class="h" font-size="18.5" font-weight="bold" fill="#e2061e" text-anchor="middle" transform="translate(1110.84,954.77) rotate(160.6) scale(0.897,1)">w</text>
<text class="h" font-size="18.5" font-weight="bold" fill="#e2061e" text-anchor="middle" transform="translate(1102.33,956.78) rotate(172.8) scale(0.897,1)">.</text>
<text class="h" font-size="18.5" fill="#111" text-anchor="middle" transform="translate(1095.43,957.06) rotate(182.5) scale(0.897,1)">h</text>
<text class="h" font-size="18.5" fill="#111" text-anchor="middle" transform="translate(1086.34,955.64) rotate(195.4) scale(0.897,1)">a</text>
<text class="h" font-size="18.5" fill="#111" text-anchor="middle" transform="translate(1080.28,953.44) rotate(204.4) scale(0.897,1)">i</text>
<text class="h" font-size="18.5" font-weight="bold" fill="#111" text-anchor="middle" transform="translate(1074.63,950.33) rotate(213.4) scale(0.897,1)">s</text>
<text class="h" font-size="18.5" font-weight="bold" fill="#111" text-anchor="middle" transform="translate(1067.56,944.43) rotate(226.3) scale(0.897,1)">e</text>
<text class="h" font-size="18.5" font-weight="bold" fill="#111" text-anchor="middle" transform="translate(1061.76,936.72) rotate(239.8) scale(0.897,1)">n</text>
<text class="h" font-size="18.5" font-weight="bold" fill="#111" text-anchor="middle" transform="translate(1058.49,929.62) rotate(250.7) scale(0.897,1)">t</text>
<text class="h" font-size="18.5" font-weight="bold" fill="#111" text-anchor="middle" transform="translate(1057.12,924.75) rotate(257.8) scale(0.897,1)">i</text>
<text class="h" font-size="18.5" font-weight="bold" fill="#111" text-anchor="middle" transform="translate(1056.36,919.74) rotate(264.9) scale(0.897,1)">t</text>
<text class="h" font-size="18.5" font-weight="bold" fill="#111" text-anchor="middle" transform="translate(1056.41,911.93) rotate(275.8) scale(0.897,1)">o</text>
<text class="h" font-size="18.5" fill="#111" text-anchor="middle" transform="translate(1057.69,905.15) rotate(285.5) scale(0.897,1)">i</text>
<text class="h" font-size="18.5" fill="#111" text-anchor="middle" transform="translate(1058.83,901.64) rotate(290.6) scale(0.897,1)">l</text>
<text class="h" font-size="18.5" font-weight="bold" fill="#111" text-anchor="middle" transform="translate(1060.69,897.44) rotate(297.1) scale(0.897,1)">t</text>
<text class="h" font-size="18.5" font-weight="bold" fill="#111" text-anchor="middle" transform="translate(1064.62,891.21) rotate(307.4) scale(0.897,1)">e</text>
<text class="h" font-size="18.5" font-weight="bold" fill="#111" text-anchor="middle" transform="translate(1069.95,885.47) rotate(318.3) scale(0.897,1)">r</text>
<text class="h" font-size="18.5" font-weight="bold" fill="#111" text-anchor="middle" transform="translate(1075.09,881.57) rotate(327.4) scale(0.897,1)">r</text>
<text class="h" font-size="18.5" font-weight="bold" fill="#111" text-anchor="middle" transform="translate(1082.05,878.00) rotate(338.3) scale(0.897,1)">e</text>
<text class="h" font-size="18.5" font-weight="bold" fill="#111" text-anchor="middle" transform="translate(1093.67,875.25) rotate(355.1) scale(0.897,1)">m</text>
<text class="h" font-size="18.5" font-weight="bold" fill="#111" text-anchor="middle" transform="translate(1106.04,876.06) rotate(372.5) scale(0.897,1)">o</text>
<text class="h" font-size="18.5" font-weight="bold" fill="#111" text-anchor="middle" transform="translate(1113.48,878.47) rotate(383.4) scale(0.897,1)">t</text>
<text class="h" font-size="18.5" font-weight="bold" fill="#111" text-anchor="middle" transform="translate(1120.32,882.24) rotate(394.3) scale(0.897,1)">o</text>
<text class="h" font-size="18.5" font-weight="bold" fill="#e2061e" text-anchor="middle" transform="translate(1126.00,886.92) rotate(404.6) scale(0.897,1)">.</text>
<text class="h" font-size="18.5" font-weight="bold" fill="#e2061e" text-anchor="middle" transform="translate(1129.09,890.33) rotate(411.1) scale(0.897,1)">i</text>
<text class="h" font-size="18.5" font-weight="bold" fill="#e2061e" text-anchor="middle" transform="translate(1132.02,894.46) rotate(418.1) scale(0.897,1)">t</text>
</g>
</svg></body></html>
